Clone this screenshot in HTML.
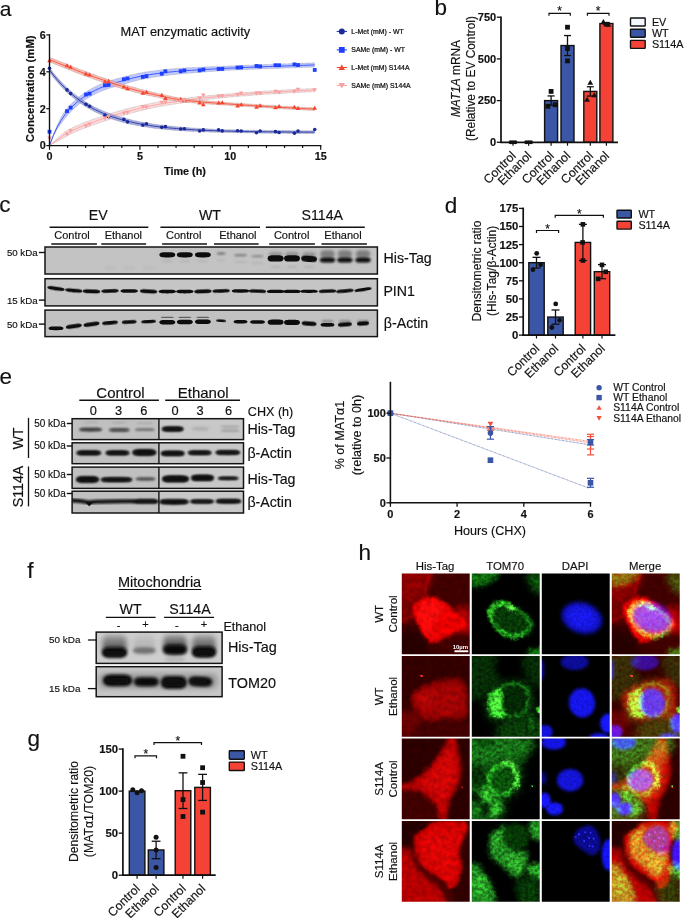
<!DOCTYPE html>
<html lang="en"><head><meta charset="utf-8"><title>Figure</title>
<style>
html,body{margin:0;padding:0;background:#fff;}
body{width:685px;height:918px;overflow:hidden;font-family:"Liberation Sans", sans-serif;}
svg{display:block;font-family:"Liberation Sans", sans-serif;}
svg text{fill:#111;stroke:#111;stroke-width:.16px;}
</style></head><body>
<svg width="685" height="918" viewBox="0 0 685 918">
<rect width="685" height="918" fill="#fff"/>
<g id="panel-a">
<text x="-0.30" y="15.70" font-size="21">a</text>
<path d="M49.50,145.60 L53.34,134.39 L57.19,125.16 L61.03,117.56 L64.88,111.12 L68.72,106.52 L72.56,102.57 L76.41,99.04 L80.25,95.90 L84.10,93.13 L87.94,90.67 L91.78,88.44 L95.63,86.43 L99.47,84.63 L103.32,83.03 L107.16,81.64 L111.00,80.40 L114.85,79.27 L118.69,78.20 L122.54,77.15 L126.38,76.13 L130.22,75.14 L134.07,74.21 L137.91,73.37 L141.76,72.65 L145.60,72.00 L149.44,71.41 L153.29,70.88 L157.13,70.39 L160.97,69.94 L164.82,69.52 L168.66,69.14 L172.51,68.80 L176.35,68.49 L180.19,68.23 L184.04,68.01 L187.88,67.80 L191.73,67.60 L195.57,67.41 L199.41,67.23 L203.26,67.05 L207.10,66.87 L210.95,66.71 L214.79,66.55 L218.63,66.39 L222.48,66.24 L226.32,66.11 L230.17,65.97 L234.01,65.80 L237.85,65.63 L241.70,65.46 L245.54,65.30 L249.39,65.15 L253.23,65.00 L257.07,64.85 L260.92,64.70 L264.76,64.56 L268.61,64.41 L272.45,64.27 L276.29,64.13 L280.14,63.99 L283.98,63.86 L287.83,63.72 L291.67,63.59 L295.51,63.46 L299.36,63.33 L303.20,63.20 L307.05,63.07 L310.89,62.95 L314.73,62.83 L314.73,67.11 L310.89,67.23 L307.05,67.35 L303.20,67.48 L299.36,67.61 L295.51,67.74 L291.67,67.87 L287.83,68.00 L283.98,68.14 L280.14,68.27 L276.29,68.41 L272.45,68.55 L268.61,68.69 L264.76,68.84 L260.92,68.98 L257.07,69.13 L253.23,69.28 L249.39,69.43 L245.54,69.58 L241.70,69.74 L237.85,69.91 L234.01,70.08 L230.17,70.26 L226.32,70.50 L222.48,70.75 L218.63,71.00 L214.79,71.27 L210.95,71.54 L207.10,71.82 L203.26,72.10 L199.41,72.39 L195.57,72.69 L191.73,72.98 L187.88,73.29 L184.04,73.61 L180.19,73.95 L176.35,74.32 L172.51,74.73 L168.66,75.18 L164.82,75.67 L160.97,76.20 L157.13,76.76 L153.29,77.36 L149.44,78.00 L145.60,78.70 L141.76,79.46 L137.91,80.29 L134.07,81.24 L130.22,82.28 L126.38,83.38 L122.54,84.51 L118.69,85.58 L114.85,86.65 L111.00,87.78 L107.16,89.02 L103.32,90.41 L99.47,92.01 L95.63,93.81 L91.78,95.82 L87.94,98.05 L84.10,100.51 L80.25,103.28 L76.41,106.42 L72.56,109.95 L68.72,113.90 L64.88,118.50 L61.03,123.45 L57.19,129.08 L53.34,136.35 L49.50,145.60Z" fill="#a8b6ff" fill-opacity="0.75" stroke="none"/>
<path d="M49.50,145.60 L53.34,134.39 L57.19,125.16 L61.03,117.56 L64.88,111.12 L68.72,106.52 L72.56,102.57 L76.41,99.04 L80.25,95.90 L84.10,93.13 L87.94,90.67 L91.78,88.44 L95.63,86.43 L99.47,84.63 L103.32,83.03 L107.16,81.64 L111.00,80.40 L114.85,79.27 L118.69,78.20 L122.54,77.15 L126.38,76.13 L130.22,75.14 L134.07,74.21 L137.91,73.37 L141.76,72.65 L145.60,72.00 L149.44,71.41 L153.29,70.88 L157.13,70.39 L160.97,69.94 L164.82,69.52 L168.66,69.14 L172.51,68.80 L176.35,68.49 L180.19,68.23 L184.04,68.01 L187.88,67.80 L191.73,67.60 L195.57,67.41 L199.41,67.23 L203.26,67.05 L207.10,66.87 L210.95,66.71 L214.79,66.55 L218.63,66.39 L222.48,66.24 L226.32,66.11 L230.17,65.97 L234.01,65.80 L237.85,65.63 L241.70,65.46 L245.54,65.30 L249.39,65.15 L253.23,65.00 L257.07,64.85 L260.92,64.70 L264.76,64.56 L268.61,64.41 L272.45,64.27 L276.29,64.13 L280.14,63.99 L283.98,63.86 L287.83,63.72 L291.67,63.59 L295.51,63.46 L299.36,63.33 L303.20,63.20 L307.05,63.07 L310.89,62.95 L314.73,62.83" fill="none" stroke="#555" stroke-width="0.35" stroke-dasharray="0.6 0.6"/>
<path d="M49.50,145.60 L53.34,136.35 L57.19,129.08 L61.03,123.45 L64.88,118.50 L68.72,113.90 L72.56,109.95 L76.41,106.42 L80.25,103.28 L84.10,100.51 L87.94,98.05 L91.78,95.82 L95.63,93.81 L99.47,92.01 L103.32,90.41 L107.16,89.02 L111.00,87.78 L114.85,86.65 L118.69,85.58 L122.54,84.51 L126.38,83.38 L130.22,82.28 L134.07,81.24 L137.91,80.29 L141.76,79.46 L145.60,78.70 L149.44,78.00 L153.29,77.36 L157.13,76.76 L160.97,76.20 L164.82,75.67 L168.66,75.18 L172.51,74.73 L176.35,74.32 L180.19,73.95 L184.04,73.61 L187.88,73.29 L191.73,72.98 L195.57,72.69 L199.41,72.39 L203.26,72.10 L207.10,71.82 L210.95,71.54 L214.79,71.27 L218.63,71.00 L222.48,70.75 L226.32,70.50 L230.17,70.26 L234.01,70.08 L237.85,69.91 L241.70,69.74 L245.54,69.58 L249.39,69.43 L253.23,69.28 L257.07,69.13 L260.92,68.98 L264.76,68.84 L268.61,68.69 L272.45,68.55 L276.29,68.41 L280.14,68.27 L283.98,68.14 L287.83,68.00 L291.67,67.87 L295.51,67.74 L299.36,67.61 L303.20,67.48 L307.05,67.35 L310.89,67.23 L314.73,67.11" fill="none" stroke="#555" stroke-width="0.35" stroke-dasharray="0.6 0.6"/>
<path d="M49.50,145.60 L53.34,135.37 L57.19,127.12 L61.03,120.51 L64.88,114.81 L68.72,110.21 L72.56,106.26 L76.41,102.73 L80.25,99.59 L84.10,96.82 L87.94,94.36 L91.78,92.13 L95.63,90.12 L99.47,88.32 L103.32,86.72 L107.16,85.33 L111.00,84.09 L114.85,82.96 L118.69,81.89 L122.54,80.83 L126.38,79.75 L130.22,78.71 L134.07,77.72 L137.91,76.83 L141.76,76.05 L145.60,75.35 L149.44,74.71 L153.29,74.12 L157.13,73.57 L160.97,73.07 L164.82,72.60 L168.66,72.16 L172.51,71.76 L176.35,71.41 L180.19,71.09 L184.04,70.81 L187.88,70.54 L191.73,70.29 L195.57,70.05 L199.41,69.81 L203.26,69.57 L207.10,69.35 L210.95,69.12 L214.79,68.91 L218.63,68.70 L222.48,68.50 L226.32,68.30 L230.17,68.12 L234.01,67.94 L237.85,67.77 L241.70,67.60 L245.54,67.44 L249.39,67.29 L253.23,67.14 L257.07,66.99 L260.92,66.84 L264.76,66.70 L268.61,66.55 L272.45,66.41 L276.29,66.27 L280.14,66.13 L283.98,66.00 L287.83,65.86 L291.67,65.73 L295.51,65.60 L299.36,65.47 L303.20,65.34 L307.05,65.21 L310.89,65.09 L314.73,64.97" fill="none" stroke="#1f3fff" stroke-width="0.8"/>
<path d="M49.50,145.60 L53.34,141.97 L57.19,138.44 L61.03,134.97 L64.88,131.73 L68.72,129.49 L72.56,127.59 L76.41,125.89 L80.25,124.30 L84.10,122.78 L87.94,121.28 L91.78,119.85 L95.63,118.47 L99.47,117.14 L103.32,115.85 L107.16,114.60 L111.00,113.38 L114.85,112.20 L118.69,111.06 L122.54,109.99 L126.38,108.98 L130.22,108.02 L134.07,107.09 L137.91,106.20 L141.76,105.35 L145.60,104.50 L149.44,103.69 L153.29,102.93 L157.13,102.22 L160.97,101.59 L164.82,101.01 L168.66,100.46 L172.51,99.94 L176.35,99.43 L180.19,98.92 L184.04,98.39 L187.88,97.88 L191.73,97.39 L195.57,96.96 L199.41,96.55 L203.26,96.16 L207.10,95.79 L210.95,95.43 L214.79,95.08 L218.63,94.75 L222.48,94.43 L226.32,94.12 L230.17,93.82 L234.01,93.49 L237.85,93.16 L241.70,92.84 L245.54,92.53 L249.39,92.23 L253.23,91.95 L257.07,91.67 L260.92,91.40 L264.76,91.15 L268.61,90.91 L272.45,90.68 L276.29,90.45 L280.14,90.22 L283.98,90.00 L287.83,89.79 L291.67,89.58 L295.51,89.38 L299.36,89.19 L303.20,89.00 L307.05,88.83 L310.89,88.66 L314.73,88.50 L314.73,91.71 L310.89,91.87 L307.05,92.04 L303.20,92.21 L299.36,92.40 L295.51,92.59 L291.67,92.79 L287.83,93.00 L283.98,93.21 L280.14,93.43 L276.29,93.66 L272.45,93.89 L268.61,94.12 L264.76,94.36 L260.92,94.61 L257.07,94.88 L253.23,95.16 L249.39,95.44 L245.54,95.75 L241.70,96.05 L237.85,96.37 L234.01,96.70 L230.17,97.03 L226.32,97.42 L222.48,97.81 L218.63,98.21 L214.79,98.62 L210.95,99.05 L207.10,99.49 L203.26,99.95 L199.41,100.42 L195.57,100.91 L191.73,101.43 L187.88,102.00 L184.04,102.59 L180.19,103.20 L176.35,103.80 L172.51,104.39 L168.66,105.00 L164.82,105.62 L160.97,106.28 L157.13,107.00 L153.29,107.79 L149.44,108.64 L145.60,109.53 L141.76,110.45 L137.91,111.39 L134.07,112.37 L130.22,113.37 L126.38,114.42 L122.54,115.50 L118.69,116.60 L114.85,117.73 L111.00,118.91 L107.16,120.13 L103.32,121.39 L99.47,122.67 L95.63,124.00 L91.78,125.38 L87.94,126.82 L84.10,128.32 L80.25,129.84 L76.41,131.42 L72.56,133.13 L68.72,135.03 L64.88,137.27 L61.03,139.38 L57.19,141.39 L53.34,143.44 L49.50,145.60Z" fill="#fbd0d0" fill-opacity="0.75" stroke="none"/>
<path d="M49.50,145.60 L53.34,141.97 L57.19,138.44 L61.03,134.97 L64.88,131.73 L68.72,129.49 L72.56,127.59 L76.41,125.89 L80.25,124.30 L84.10,122.78 L87.94,121.28 L91.78,119.85 L95.63,118.47 L99.47,117.14 L103.32,115.85 L107.16,114.60 L111.00,113.38 L114.85,112.20 L118.69,111.06 L122.54,109.99 L126.38,108.98 L130.22,108.02 L134.07,107.09 L137.91,106.20 L141.76,105.35 L145.60,104.50 L149.44,103.69 L153.29,102.93 L157.13,102.22 L160.97,101.59 L164.82,101.01 L168.66,100.46 L172.51,99.94 L176.35,99.43 L180.19,98.92 L184.04,98.39 L187.88,97.88 L191.73,97.39 L195.57,96.96 L199.41,96.55 L203.26,96.16 L207.10,95.79 L210.95,95.43 L214.79,95.08 L218.63,94.75 L222.48,94.43 L226.32,94.12 L230.17,93.82 L234.01,93.49 L237.85,93.16 L241.70,92.84 L245.54,92.53 L249.39,92.23 L253.23,91.95 L257.07,91.67 L260.92,91.40 L264.76,91.15 L268.61,90.91 L272.45,90.68 L276.29,90.45 L280.14,90.22 L283.98,90.00 L287.83,89.79 L291.67,89.58 L295.51,89.38 L299.36,89.19 L303.20,89.00 L307.05,88.83 L310.89,88.66 L314.73,88.50" fill="none" stroke="#555" stroke-width="0.35" stroke-dasharray="0.6 0.6"/>
<path d="M49.50,145.60 L53.34,143.44 L57.19,141.39 L61.03,139.38 L64.88,137.27 L68.72,135.03 L72.56,133.13 L76.41,131.42 L80.25,129.84 L84.10,128.32 L87.94,126.82 L91.78,125.38 L95.63,124.00 L99.47,122.67 L103.32,121.39 L107.16,120.13 L111.00,118.91 L114.85,117.73 L118.69,116.60 L122.54,115.50 L126.38,114.42 L130.22,113.37 L134.07,112.37 L137.91,111.39 L141.76,110.45 L145.60,109.53 L149.44,108.64 L153.29,107.79 L157.13,107.00 L160.97,106.28 L164.82,105.62 L168.66,105.00 L172.51,104.39 L176.35,103.80 L180.19,103.20 L184.04,102.59 L187.88,102.00 L191.73,101.43 L195.57,100.91 L199.41,100.42 L203.26,99.95 L207.10,99.49 L210.95,99.05 L214.79,98.62 L218.63,98.21 L222.48,97.81 L226.32,97.42 L230.17,97.03 L234.01,96.70 L237.85,96.37 L241.70,96.05 L245.54,95.75 L249.39,95.44 L253.23,95.16 L257.07,94.88 L260.92,94.61 L264.76,94.36 L268.61,94.12 L272.45,93.89 L276.29,93.66 L280.14,93.43 L283.98,93.21 L287.83,93.00 L291.67,92.79 L295.51,92.59 L299.36,92.40 L303.20,92.21 L307.05,92.04 L310.89,91.87 L314.73,91.71" fill="none" stroke="#555" stroke-width="0.35" stroke-dasharray="0.6 0.6"/>
<path d="M49.50,145.60 L53.34,142.71 L57.19,139.91 L61.03,137.18 L64.88,134.50 L68.72,132.26 L72.56,130.36 L76.41,128.65 L80.25,127.07 L84.10,125.55 L87.94,124.05 L91.78,122.61 L95.63,121.23 L99.47,119.91 L103.32,118.62 L107.16,117.36 L111.00,116.15 L114.85,114.97 L118.69,113.83 L122.54,112.75 L126.38,111.70 L130.22,110.70 L134.07,109.73 L137.91,108.80 L141.76,107.90 L145.60,107.02 L149.44,106.16 L153.29,105.36 L157.13,104.61 L160.97,103.94 L164.82,103.31 L168.66,102.73 L172.51,102.17 L176.35,101.62 L180.19,101.06 L184.04,100.49 L187.88,99.94 L191.73,99.41 L195.57,98.93 L199.41,98.49 L203.26,98.05 L207.10,97.64 L210.95,97.24 L214.79,96.85 L218.63,96.48 L222.48,96.12 L226.32,95.77 L230.17,95.43 L234.01,95.09 L237.85,94.77 L241.70,94.45 L245.54,94.14 L249.39,93.84 L253.23,93.55 L257.07,93.27 L260.92,93.01 L264.76,92.76 L268.61,92.52 L272.45,92.28 L276.29,92.05 L280.14,91.83 L283.98,91.61 L287.83,91.39 L291.67,91.19 L295.51,90.99 L299.36,90.79 L303.20,90.61 L307.05,90.43 L310.89,90.26 L314.73,90.11" fill="none" stroke="#f9a0a0" stroke-width="0.8"/>
<path d="M49.50,57.22 L53.34,58.77 L57.19,60.31 L61.03,61.84 L64.88,63.36 L68.72,64.87 L72.56,66.38 L76.41,67.89 L80.25,69.38 L84.10,70.85 L87.94,72.27 L91.78,73.68 L95.63,75.06 L99.47,76.42 L103.32,77.74 L107.16,79.05 L111.00,80.35 L114.85,81.61 L118.69,82.84 L122.54,84.01 L126.38,85.17 L130.22,86.29 L134.07,87.37 L137.91,88.41 L141.76,89.43 L145.60,90.41 L149.44,91.36 L153.29,92.28 L157.13,93.16 L160.97,94.03 L164.82,94.89 L168.66,95.74 L172.51,96.53 L176.35,97.25 L180.19,97.88 L184.04,98.42 L187.88,98.90 L191.73,99.34 L195.57,99.74 L199.41,100.12 L203.26,100.48 L207.10,100.82 L210.95,101.15 L214.79,101.46 L218.63,101.77 L222.48,102.08 L226.32,102.38 L230.17,102.69 L234.01,102.96 L237.85,103.23 L241.70,103.49 L245.54,103.75 L249.39,104.01 L253.23,104.26 L257.07,104.51 L260.92,104.76 L264.76,105.00 L268.61,105.24 L272.45,105.47 L276.29,105.69 L280.14,105.92 L283.98,106.14 L287.83,106.35 L291.67,106.57 L295.51,106.77 L299.36,106.98 L303.20,107.18 L307.05,107.38 L310.89,107.57 L314.73,107.76 L314.73,110.54 L310.89,110.35 L307.05,110.16 L303.20,109.96 L299.36,109.76 L295.51,109.56 L291.67,109.35 L287.83,109.14 L283.98,108.92 L280.14,108.70 L276.29,108.48 L272.45,108.25 L268.61,108.02 L264.76,107.78 L260.92,107.54 L257.07,107.29 L253.23,107.04 L249.39,106.79 L245.54,106.53 L241.70,106.27 L237.85,106.01 L234.01,105.74 L230.17,105.47 L226.32,105.24 L222.48,105.00 L218.63,104.77 L214.79,104.53 L210.95,104.29 L207.10,104.03 L203.26,103.76 L199.41,103.47 L195.57,103.17 L191.73,102.84 L187.88,102.47 L184.04,102.06 L180.19,101.59 L176.35,101.04 L172.51,100.39 L168.66,99.66 L164.82,98.89 L160.97,98.10 L157.13,97.30 L153.29,96.49 L149.44,95.64 L145.60,94.76 L141.76,93.85 L137.91,92.91 L134.07,91.94 L130.22,90.93 L126.38,89.88 L122.54,88.80 L118.69,87.63 L114.85,86.41 L111.00,85.14 L107.16,83.85 L103.32,82.54 L99.47,81.21 L95.63,79.86 L91.78,78.48 L87.94,77.07 L84.10,75.64 L80.25,74.18 L76.41,72.69 L72.56,71.18 L68.72,69.67 L64.88,68.15 L61.03,66.63 L57.19,65.10 L53.34,63.57 L49.50,62.02Z" fill="#f9a79c" fill-opacity="0.75" stroke="none"/>
<path d="M49.50,57.22 L53.34,58.77 L57.19,60.31 L61.03,61.84 L64.88,63.36 L68.72,64.87 L72.56,66.38 L76.41,67.89 L80.25,69.38 L84.10,70.85 L87.94,72.27 L91.78,73.68 L95.63,75.06 L99.47,76.42 L103.32,77.74 L107.16,79.05 L111.00,80.35 L114.85,81.61 L118.69,82.84 L122.54,84.01 L126.38,85.17 L130.22,86.29 L134.07,87.37 L137.91,88.41 L141.76,89.43 L145.60,90.41 L149.44,91.36 L153.29,92.28 L157.13,93.16 L160.97,94.03 L164.82,94.89 L168.66,95.74 L172.51,96.53 L176.35,97.25 L180.19,97.88 L184.04,98.42 L187.88,98.90 L191.73,99.34 L195.57,99.74 L199.41,100.12 L203.26,100.48 L207.10,100.82 L210.95,101.15 L214.79,101.46 L218.63,101.77 L222.48,102.08 L226.32,102.38 L230.17,102.69 L234.01,102.96 L237.85,103.23 L241.70,103.49 L245.54,103.75 L249.39,104.01 L253.23,104.26 L257.07,104.51 L260.92,104.76 L264.76,105.00 L268.61,105.24 L272.45,105.47 L276.29,105.69 L280.14,105.92 L283.98,106.14 L287.83,106.35 L291.67,106.57 L295.51,106.77 L299.36,106.98 L303.20,107.18 L307.05,107.38 L310.89,107.57 L314.73,107.76" fill="none" stroke="#555" stroke-width="0.35" stroke-dasharray="0.6 0.6"/>
<path d="M49.50,62.02 L53.34,63.57 L57.19,65.10 L61.03,66.63 L64.88,68.15 L68.72,69.67 L72.56,71.18 L76.41,72.69 L80.25,74.18 L84.10,75.64 L87.94,77.07 L91.78,78.48 L95.63,79.86 L99.47,81.21 L103.32,82.54 L107.16,83.85 L111.00,85.14 L114.85,86.41 L118.69,87.63 L122.54,88.80 L126.38,89.88 L130.22,90.93 L134.07,91.94 L137.91,92.91 L141.76,93.85 L145.60,94.76 L149.44,95.64 L153.29,96.49 L157.13,97.30 L160.97,98.10 L164.82,98.89 L168.66,99.66 L172.51,100.39 L176.35,101.04 L180.19,101.59 L184.04,102.06 L187.88,102.47 L191.73,102.84 L195.57,103.17 L199.41,103.47 L203.26,103.76 L207.10,104.03 L210.95,104.29 L214.79,104.53 L218.63,104.77 L222.48,105.00 L226.32,105.24 L230.17,105.47 L234.01,105.74 L237.85,106.01 L241.70,106.27 L245.54,106.53 L249.39,106.79 L253.23,107.04 L257.07,107.29 L260.92,107.54 L264.76,107.78 L268.61,108.02 L272.45,108.25 L276.29,108.48 L280.14,108.70 L283.98,108.92 L287.83,109.14 L291.67,109.35 L295.51,109.56 L299.36,109.76 L303.20,109.96 L307.05,110.16 L310.89,110.35 L314.73,110.54" fill="none" stroke="#555" stroke-width="0.35" stroke-dasharray="0.6 0.6"/>
<path d="M49.50,59.62 L53.34,61.17 L57.19,62.71 L61.03,64.23 L64.88,65.75 L68.72,67.27 L72.56,68.78 L76.41,70.29 L80.25,71.78 L84.10,73.24 L87.94,74.67 L91.78,76.08 L95.63,77.46 L99.47,78.81 L103.32,80.14 L107.16,81.45 L111.00,82.75 L114.85,84.01 L118.69,85.24 L122.54,86.40 L126.38,87.53 L130.22,88.61 L134.07,89.65 L137.91,90.66 L141.76,91.64 L145.60,92.59 L149.44,93.50 L153.29,94.38 L157.13,95.23 L160.97,96.06 L164.82,96.89 L168.66,97.70 L172.51,98.46 L176.35,99.14 L180.19,99.73 L184.04,100.24 L187.88,100.68 L191.73,101.09 L195.57,101.45 L199.41,101.80 L203.26,102.12 L207.10,102.43 L210.95,102.72 L214.79,103.00 L218.63,103.27 L222.48,103.54 L226.32,103.81 L230.17,104.08 L234.01,104.35 L237.85,104.62 L241.70,104.88 L245.54,105.14 L249.39,105.40 L253.23,105.65 L257.07,105.90 L260.92,106.15 L264.76,106.39 L268.61,106.63 L272.45,106.86 L276.29,107.09 L280.14,107.31 L283.98,107.53 L287.83,107.74 L291.67,107.96 L295.51,108.17 L299.36,108.37 L303.20,108.57 L307.05,108.77 L310.89,108.96 L314.73,109.15" fill="none" stroke="#f4452f" stroke-width="0.8"/>
<path d="M49.50,67.56 L53.34,72.64 L57.19,77.31 L61.03,81.60 L64.88,85.54 L68.72,89.16 L72.56,92.48 L76.41,95.53 L80.25,98.34 L84.10,100.91 L87.94,103.28 L91.78,105.45 L95.63,107.44 L99.47,109.27 L103.32,110.96 L107.16,112.50 L111.00,113.92 L114.85,115.23 L118.69,116.42 L122.54,117.53 L126.38,118.58 L130.22,119.54 L134.07,120.43 L137.91,121.25 L141.76,122.00 L145.60,122.70 L149.44,123.34 L153.29,123.93 L157.13,124.48 L160.97,124.99 L164.82,125.45 L168.66,125.89 L172.51,126.29 L176.35,126.66 L180.19,127.00 L184.04,127.32 L187.88,127.61 L191.73,127.89 L195.57,128.14 L199.41,128.38 L203.26,128.60 L207.10,128.80 L210.95,128.99 L214.79,129.17 L218.63,129.34 L222.48,129.49 L226.32,129.64 L230.17,129.78 L234.01,129.87 L237.85,129.96 L241.70,130.04 L245.54,130.11 L249.39,130.18 L253.23,130.24 L257.07,130.29 L260.92,130.34 L264.76,130.39 L268.61,130.44 L272.45,130.48 L276.29,130.51 L280.14,130.55 L283.98,130.58 L287.83,130.60 L291.67,130.63 L295.51,130.66 L299.36,130.68 L303.20,130.70 L307.05,130.72 L310.89,130.73 L314.73,130.75 L314.73,133.53 L310.89,133.52 L307.05,133.50 L303.20,133.48 L299.36,133.46 L295.51,133.44 L291.67,133.41 L287.83,133.39 L283.98,133.36 L280.14,133.33 L276.29,133.29 L272.45,133.26 L268.61,133.22 L264.76,133.17 L260.92,133.13 L257.07,133.08 L253.23,133.02 L249.39,132.96 L245.54,132.89 L241.70,132.82 L237.85,132.74 L234.01,132.65 L230.17,132.56 L226.32,132.50 L222.48,132.42 L218.63,132.34 L214.79,132.24 L210.95,132.13 L207.10,132.01 L203.26,131.88 L199.41,131.73 L195.57,131.57 L191.73,131.38 L187.88,131.18 L184.04,130.96 L180.19,130.71 L176.35,130.44 L172.51,130.14 L168.66,129.81 L164.82,129.45 L160.97,129.06 L157.13,128.62 L153.29,128.15 L149.44,127.62 L145.60,127.05 L141.76,126.43 L137.91,125.75 L134.07,125.00 L130.22,124.18 L126.38,123.29 L122.54,122.32 L118.69,121.22 L114.85,120.02 L111.00,118.72 L107.16,117.30 L103.32,115.75 L99.47,114.07 L95.63,112.24 L91.78,110.24 L87.94,108.07 L84.10,105.71 L80.25,103.13 L76.41,100.33 L72.56,97.28 L68.72,93.95 L64.88,90.34 L61.03,86.40 L57.19,82.11 L53.34,77.44 L49.50,72.35Z" fill="#8a93d8" fill-opacity="0.75" stroke="none"/>
<path d="M49.50,67.56 L53.34,72.64 L57.19,77.31 L61.03,81.60 L64.88,85.54 L68.72,89.16 L72.56,92.48 L76.41,95.53 L80.25,98.34 L84.10,100.91 L87.94,103.28 L91.78,105.45 L95.63,107.44 L99.47,109.27 L103.32,110.96 L107.16,112.50 L111.00,113.92 L114.85,115.23 L118.69,116.42 L122.54,117.53 L126.38,118.58 L130.22,119.54 L134.07,120.43 L137.91,121.25 L141.76,122.00 L145.60,122.70 L149.44,123.34 L153.29,123.93 L157.13,124.48 L160.97,124.99 L164.82,125.45 L168.66,125.89 L172.51,126.29 L176.35,126.66 L180.19,127.00 L184.04,127.32 L187.88,127.61 L191.73,127.89 L195.57,128.14 L199.41,128.38 L203.26,128.60 L207.10,128.80 L210.95,128.99 L214.79,129.17 L218.63,129.34 L222.48,129.49 L226.32,129.64 L230.17,129.78 L234.01,129.87 L237.85,129.96 L241.70,130.04 L245.54,130.11 L249.39,130.18 L253.23,130.24 L257.07,130.29 L260.92,130.34 L264.76,130.39 L268.61,130.44 L272.45,130.48 L276.29,130.51 L280.14,130.55 L283.98,130.58 L287.83,130.60 L291.67,130.63 L295.51,130.66 L299.36,130.68 L303.20,130.70 L307.05,130.72 L310.89,130.73 L314.73,130.75" fill="none" stroke="#555" stroke-width="0.35" stroke-dasharray="0.6 0.6"/>
<path d="M49.50,72.35 L53.34,77.44 L57.19,82.11 L61.03,86.40 L64.88,90.34 L68.72,93.95 L72.56,97.28 L76.41,100.33 L80.25,103.13 L84.10,105.71 L87.94,108.07 L91.78,110.24 L95.63,112.24 L99.47,114.07 L103.32,115.75 L107.16,117.30 L111.00,118.72 L114.85,120.02 L118.69,121.22 L122.54,122.32 L126.38,123.29 L130.22,124.18 L134.07,125.00 L137.91,125.75 L141.76,126.43 L145.60,127.05 L149.44,127.62 L153.29,128.15 L157.13,128.62 L160.97,129.06 L164.82,129.45 L168.66,129.81 L172.51,130.14 L176.35,130.44 L180.19,130.71 L184.04,130.96 L187.88,131.18 L191.73,131.38 L195.57,131.57 L199.41,131.73 L203.26,131.88 L207.10,132.01 L210.95,132.13 L214.79,132.24 L218.63,132.34 L222.48,132.42 L226.32,132.50 L230.17,132.56 L234.01,132.65 L237.85,132.74 L241.70,132.82 L245.54,132.89 L249.39,132.96 L253.23,133.02 L257.07,133.08 L260.92,133.13 L264.76,133.17 L268.61,133.22 L272.45,133.26 L276.29,133.29 L280.14,133.33 L283.98,133.36 L287.83,133.39 L291.67,133.41 L295.51,133.44 L299.36,133.46 L303.20,133.48 L307.05,133.50 L310.89,133.52 L314.73,133.53" fill="none" stroke="#555" stroke-width="0.35" stroke-dasharray="0.6 0.6"/>
<path d="M49.50,69.95 L53.34,75.04 L57.19,79.71 L61.03,84.00 L64.88,87.94 L68.72,91.56 L72.56,94.88 L76.41,97.93 L80.25,100.73 L84.10,103.31 L87.94,105.67 L91.78,107.85 L95.63,109.84 L99.47,111.67 L103.32,113.36 L107.16,114.90 L111.00,116.32 L114.85,117.63 L118.69,118.82 L122.54,119.92 L126.38,120.93 L130.22,121.86 L134.07,122.71 L137.91,123.50 L141.76,124.22 L145.60,124.88 L149.44,125.48 L153.29,126.04 L157.13,126.55 L160.97,127.02 L164.82,127.45 L168.66,127.85 L172.51,128.21 L176.35,128.55 L180.19,128.86 L184.04,129.14 L187.88,129.40 L191.73,129.63 L195.57,129.85 L199.41,130.05 L203.26,130.24 L207.10,130.41 L210.95,130.56 L214.79,130.71 L218.63,130.84 L222.48,130.96 L226.32,131.07 L230.17,131.17 L234.01,131.26 L237.85,131.35 L241.70,131.43 L245.54,131.50 L249.39,131.57 L253.23,131.63 L257.07,131.68 L260.92,131.74 L264.76,131.78 L268.61,131.83 L272.45,131.87 L276.29,131.90 L280.14,131.94 L283.98,131.97 L287.83,132.00 L291.67,132.02 L295.51,132.05 L299.36,132.07 L303.20,132.09 L307.05,132.11 L310.89,132.12 L314.73,132.14" fill="none" stroke="#1a2a9a" stroke-width="0.8"/>
<circle cx="49.50" cy="68.29" r="1.80" fill="#1a2a9a"/>
<circle cx="67.04" cy="89.90" r="1.80" fill="#1a2a9a"/>
<circle cx="70.65" cy="93.60" r="1.80" fill="#1a2a9a"/>
<circle cx="85.99" cy="104.23" r="1.80" fill="#1a2a9a"/>
<circle cx="89.60" cy="106.31" r="1.80" fill="#1a2a9a"/>
<circle cx="104.93" cy="115.14" r="1.80" fill="#1a2a9a"/>
<circle cx="108.55" cy="116.69" r="1.80" fill="#1a2a9a"/>
<circle cx="123.88" cy="119.42" r="1.80" fill="#1a2a9a"/>
<circle cx="127.50" cy="121.83" r="1.80" fill="#1a2a9a"/>
<circle cx="142.83" cy="125.09" r="1.80" fill="#1a2a9a"/>
<circle cx="146.44" cy="123.73" r="1.80" fill="#1a2a9a"/>
<circle cx="161.78" cy="127.19" r="1.80" fill="#1a2a9a"/>
<circle cx="165.39" cy="126.65" r="1.80" fill="#1a2a9a"/>
<circle cx="180.72" cy="128.96" r="1.80" fill="#1a2a9a"/>
<circle cx="184.34" cy="128.80" r="1.80" fill="#1a2a9a"/>
<circle cx="199.67" cy="130.97" r="1.80" fill="#1a2a9a"/>
<circle cx="203.29" cy="129.89" r="1.80" fill="#1a2a9a"/>
<circle cx="218.62" cy="129.89" r="1.80" fill="#1a2a9a"/>
<circle cx="222.24" cy="130.89" r="1.80" fill="#1a2a9a"/>
<circle cx="237.57" cy="130.72" r="1.80" fill="#1a2a9a"/>
<circle cx="241.18" cy="130.98" r="1.80" fill="#1a2a9a"/>
<circle cx="256.52" cy="132.80" r="1.80" fill="#1a2a9a"/>
<circle cx="260.13" cy="131.06" r="1.80" fill="#1a2a9a"/>
<circle cx="275.46" cy="131.66" r="1.80" fill="#1a2a9a"/>
<circle cx="279.08" cy="132.44" r="1.80" fill="#1a2a9a"/>
<circle cx="294.41" cy="133.25" r="1.80" fill="#1a2a9a"/>
<circle cx="298.03" cy="131.12" r="1.80" fill="#1a2a9a"/>
<circle cx="314.73" cy="129.55" r="1.80" fill="#1a2a9a"/>
<rect x="47.60" y="129.86" width="3.80" height="3.80" fill="#1f3fff"/>
<rect x="65.14" y="109.21" width="3.80" height="3.80" fill="#1f3fff"/>
<rect x="68.75" y="105.72" width="3.80" height="3.80" fill="#1f3fff"/>
<rect x="84.09" y="92.59" width="3.80" height="3.80" fill="#1f3fff"/>
<rect x="87.70" y="91.74" width="3.80" height="3.80" fill="#1f3fff"/>
<rect x="103.03" y="83.44" width="3.80" height="3.80" fill="#1f3fff"/>
<rect x="106.65" y="83.11" width="3.80" height="3.80" fill="#1f3fff"/>
<rect x="121.98" y="77.42" width="3.80" height="3.80" fill="#1f3fff"/>
<rect x="125.60" y="76.57" width="3.80" height="3.80" fill="#1f3fff"/>
<rect x="140.93" y="74.99" width="3.80" height="3.80" fill="#1f3fff"/>
<rect x="144.54" y="74.24" width="3.80" height="3.80" fill="#1f3fff"/>
<rect x="159.88" y="71.80" width="3.80" height="3.80" fill="#1f3fff"/>
<rect x="163.49" y="69.43" width="3.80" height="3.80" fill="#1f3fff"/>
<rect x="178.82" y="69.32" width="3.80" height="3.80" fill="#1f3fff"/>
<rect x="182.44" y="68.56" width="3.80" height="3.80" fill="#1f3fff"/>
<rect x="197.77" y="68.41" width="3.80" height="3.80" fill="#1f3fff"/>
<rect x="201.39" y="67.65" width="3.80" height="3.80" fill="#1f3fff"/>
<rect x="216.72" y="67.09" width="3.80" height="3.80" fill="#1f3fff"/>
<rect x="220.34" y="66.99" width="3.80" height="3.80" fill="#1f3fff"/>
<rect x="235.67" y="65.66" width="3.80" height="3.80" fill="#1f3fff"/>
<rect x="239.28" y="65.51" width="3.80" height="3.80" fill="#1f3fff"/>
<rect x="254.62" y="64.06" width="3.80" height="3.80" fill="#1f3fff"/>
<rect x="258.23" y="64.50" width="3.80" height="3.80" fill="#1f3fff"/>
<rect x="273.56" y="63.29" width="3.80" height="3.80" fill="#1f3fff"/>
<rect x="277.18" y="63.35" width="3.80" height="3.80" fill="#1f3fff"/>
<rect x="292.51" y="62.46" width="3.80" height="3.80" fill="#1f3fff"/>
<rect x="296.13" y="63.17" width="3.80" height="3.80" fill="#1f3fff"/>
<rect x="312.83" y="68.05" width="3.80" height="3.80" fill="#1f3fff"/>
<path d="M49.50,58.16 L51.80,62.16 L47.20,62.16Z" fill="#f4452f"/>
<path d="M67.04,63.21 L69.34,67.21 L64.74,67.21Z" fill="#f4452f"/>
<path d="M70.65,64.78 L72.95,68.78 L68.35,68.78Z" fill="#f4452f"/>
<path d="M85.99,71.57 L88.29,75.57 L83.69,75.57Z" fill="#f4452f"/>
<path d="M89.60,72.53 L91.90,76.53 L87.30,76.53Z" fill="#f4452f"/>
<path d="M104.93,79.24 L107.23,83.24 L102.63,83.24Z" fill="#f4452f"/>
<path d="M108.55,78.86 L110.85,82.86 L106.25,82.86Z" fill="#f4452f"/>
<path d="M123.88,84.41 L126.18,88.41 L121.58,88.41Z" fill="#f4452f"/>
<path d="M127.50,86.20 L129.80,90.20 L125.20,90.20Z" fill="#f4452f"/>
<path d="M142.83,90.83 L145.13,94.83 L140.53,94.83Z" fill="#f4452f"/>
<path d="M146.44,89.68 L148.74,93.68 L144.14,93.68Z" fill="#f4452f"/>
<path d="M161.78,92.77 L164.08,96.77 L159.48,96.77Z" fill="#f4452f"/>
<path d="M165.39,95.88 L167.69,99.88 L163.09,99.88Z" fill="#f4452f"/>
<path d="M180.72,96.83 L183.02,100.83 L178.42,100.83Z" fill="#f4452f"/>
<path d="M184.34,98.31 L186.64,102.31 L182.04,102.31Z" fill="#f4452f"/>
<path d="M199.67,100.52 L201.97,104.52 L197.37,104.52Z" fill="#f4452f"/>
<path d="M203.29,102.26 L205.59,106.26 L200.99,106.26Z" fill="#f4452f"/>
<path d="M218.62,100.38 L220.92,104.38 L216.32,104.38Z" fill="#f4452f"/>
<path d="M222.24,100.36 L224.54,104.36 L219.94,104.36Z" fill="#f4452f"/>
<path d="M237.57,103.57 L239.87,107.57 L235.27,107.57Z" fill="#f4452f"/>
<path d="M241.18,102.35 L243.48,106.35 L238.88,106.35Z" fill="#f4452f"/>
<path d="M256.52,104.84 L258.82,108.84 L254.22,108.84Z" fill="#f4452f"/>
<path d="M260.13,103.34 L262.43,107.34 L257.83,107.34Z" fill="#f4452f"/>
<path d="M275.46,105.27 L277.76,109.27 L273.16,109.27Z" fill="#f4452f"/>
<path d="M279.08,104.06 L281.38,108.06 L276.78,108.06Z" fill="#f4452f"/>
<path d="M294.41,104.66 L296.71,108.66 L292.11,108.66Z" fill="#f4452f"/>
<path d="M298.03,106.09 L300.33,110.09 L295.73,110.09Z" fill="#f4452f"/>
<path d="M314.73,105.67 L317.03,109.67 L312.43,109.67Z" fill="#f4452f"/>
<path d="M49.50,140.42 L51.80,136.42 L47.20,136.42Z" fill="#f9a0a0"/>
<path d="M67.04,136.46 L69.34,132.46 L64.74,132.46Z" fill="#f9a0a0"/>
<path d="M70.65,133.22 L72.95,129.22 L68.35,129.22Z" fill="#f9a0a0"/>
<path d="M85.99,128.22 L88.29,124.22 L83.69,124.22Z" fill="#f9a0a0"/>
<path d="M89.60,126.40 L91.90,122.40 L87.30,122.40Z" fill="#f9a0a0"/>
<path d="M104.93,120.52 L107.23,116.52 L102.63,116.52Z" fill="#f9a0a0"/>
<path d="M108.55,118.83 L110.85,114.83 L106.25,114.83Z" fill="#f9a0a0"/>
<path d="M123.88,115.46 L126.18,111.46 L121.58,111.46Z" fill="#f9a0a0"/>
<path d="M127.50,114.79 L129.80,110.79 L125.20,110.79Z" fill="#f9a0a0"/>
<path d="M142.83,108.90 L145.13,104.90 L140.53,104.90Z" fill="#f9a0a0"/>
<path d="M146.44,109.51 L148.74,105.51 L144.14,105.51Z" fill="#f9a0a0"/>
<path d="M161.78,104.82 L164.08,100.82 L159.48,100.82Z" fill="#f9a0a0"/>
<path d="M165.39,104.40 L167.69,100.40 L163.09,100.40Z" fill="#f9a0a0"/>
<path d="M180.72,103.50 L183.02,99.50 L178.42,99.50Z" fill="#f9a0a0"/>
<path d="M184.34,102.75 L186.64,98.75 L182.04,98.75Z" fill="#f9a0a0"/>
<path d="M199.67,100.60 L201.97,96.60 L197.37,96.60Z" fill="#f9a0a0"/>
<path d="M203.29,97.43 L205.59,93.43 L200.99,93.43Z" fill="#f9a0a0"/>
<path d="M218.62,98.43 L220.92,94.43 L216.32,94.43Z" fill="#f9a0a0"/>
<path d="M222.24,98.19 L224.54,94.19 L219.94,94.19Z" fill="#f9a0a0"/>
<path d="M237.57,96.68 L239.87,92.68 L235.27,92.68Z" fill="#f9a0a0"/>
<path d="M241.18,95.55 L243.48,91.55 L238.88,91.55Z" fill="#f9a0a0"/>
<path d="M256.52,95.49 L258.82,91.49 L254.22,91.49Z" fill="#f9a0a0"/>
<path d="M260.13,95.44 L262.43,91.44 L257.83,91.44Z" fill="#f9a0a0"/>
<path d="M275.46,93.73 L277.76,89.73 L273.16,89.73Z" fill="#f9a0a0"/>
<path d="M279.08,94.77 L281.38,90.77 L276.78,90.77Z" fill="#f9a0a0"/>
<path d="M294.41,93.76 L296.71,89.76 L292.11,89.76Z" fill="#f9a0a0"/>
<path d="M298.03,91.83 L300.33,87.83 L295.73,87.83Z" fill="#f9a0a0"/>
<path d="M314.73,92.25 L317.03,88.25 L312.43,88.25Z" fill="#f9a0a0"/>
<line x1="49.50" y1="34.20" x2="49.50" y2="146.30" stroke="#111" stroke-width="1.4"/>
<line x1="48.80" y1="145.60" x2="321.40" y2="145.60" stroke="#111" stroke-width="1.4"/>
<line x1="46.30" y1="145.60" x2="49.50" y2="145.60" stroke="#111" stroke-width="1.2"/>
<text x="45.70" y="149.40" font-size="10.8" font-weight="bold" text-anchor="end">0</text>
<line x1="46.30" y1="108.70" x2="49.50" y2="108.70" stroke="#111" stroke-width="1.2"/>
<text x="45.70" y="112.50" font-size="10.8" font-weight="bold" text-anchor="end">2</text>
<line x1="46.30" y1="71.80" x2="49.50" y2="71.80" stroke="#111" stroke-width="1.2"/>
<text x="45.70" y="75.60" font-size="10.8" font-weight="bold" text-anchor="end">4</text>
<line x1="46.30" y1="34.90" x2="49.50" y2="34.90" stroke="#111" stroke-width="1.2"/>
<text x="45.70" y="38.70" font-size="10.8" font-weight="bold" text-anchor="end">6</text>
<line x1="49.50" y1="145.60" x2="49.50" y2="149.80" stroke="#111" stroke-width="1.2"/>
<line x1="67.58" y1="145.60" x2="67.58" y2="148.00" stroke="#111" stroke-width="1.2"/>
<line x1="85.66" y1="145.60" x2="85.66" y2="148.00" stroke="#111" stroke-width="1.2"/>
<line x1="103.74" y1="145.60" x2="103.74" y2="148.00" stroke="#111" stroke-width="1.2"/>
<line x1="121.82" y1="145.60" x2="121.82" y2="148.00" stroke="#111" stroke-width="1.2"/>
<line x1="139.90" y1="145.60" x2="139.90" y2="149.80" stroke="#111" stroke-width="1.2"/>
<line x1="157.98" y1="145.60" x2="157.98" y2="148.00" stroke="#111" stroke-width="1.2"/>
<line x1="176.06" y1="145.60" x2="176.06" y2="148.00" stroke="#111" stroke-width="1.2"/>
<line x1="194.14" y1="145.60" x2="194.14" y2="148.00" stroke="#111" stroke-width="1.2"/>
<line x1="212.22" y1="145.60" x2="212.22" y2="148.00" stroke="#111" stroke-width="1.2"/>
<line x1="230.30" y1="145.60" x2="230.30" y2="149.80" stroke="#111" stroke-width="1.2"/>
<line x1="248.38" y1="145.60" x2="248.38" y2="148.00" stroke="#111" stroke-width="1.2"/>
<line x1="266.46" y1="145.60" x2="266.46" y2="148.00" stroke="#111" stroke-width="1.2"/>
<line x1="284.54" y1="145.60" x2="284.54" y2="148.00" stroke="#111" stroke-width="1.2"/>
<line x1="302.62" y1="145.60" x2="302.62" y2="148.00" stroke="#111" stroke-width="1.2"/>
<line x1="320.70" y1="145.60" x2="320.70" y2="149.80" stroke="#111" stroke-width="1.2"/>
<text x="49.50" y="159.60" font-size="10.8" font-weight="bold" text-anchor="middle">0</text>
<text x="139.90" y="159.60" font-size="10.8" font-weight="bold" text-anchor="middle">5</text>
<text x="230.30" y="159.60" font-size="10.8" font-weight="bold" text-anchor="middle">10</text>
<text x="320.70" y="159.60" font-size="10.8" font-weight="bold" text-anchor="middle">15</text>
<text x="34.30" y="88.80" font-size="11.3" font-weight="bold" text-anchor="middle" transform="rotate(-90 34.30 88.80)">Concentration (mM)</text>
<text x="185.00" y="174.70" font-size="10.8" font-weight="bold" text-anchor="middle">Time (h)</text>
<text x="120.50" y="35.80" font-size="12.8">MAT enzymatic activity</text>
<line x1="336.70" y1="31.40" x2="347.00" y2="31.40" stroke="#1a2a9a" stroke-width="1.0"/>
<circle cx="341.80" cy="31.40" r="3.00" fill="#1a2a9a"/>
<text x="351.30" y="33.70" font-size="6.9" style="stroke-width:.24px">L-Met (mM) - WT</text>
<line x1="336.70" y1="49.90" x2="347.00" y2="49.90" stroke="#1f3fff" stroke-width="1.0"/>
<rect x="338.90" y="47.00" width="5.80" height="5.80" fill="#1f3fff"/>
<text x="351.30" y="52.20" font-size="6.9" style="stroke-width:.24px">SAMe (mM) - WT</text>
<line x1="336.70" y1="67.50" x2="347.00" y2="67.50" stroke="#f4452f" stroke-width="1.0"/>
<path d="M341.80,64.42 L345.02,70.02 L338.58,70.02Z" fill="#f4452f"/>
<text x="351.30" y="69.80" font-size="6.9" style="stroke-width:.24px">L-Met (mM) S144A</text>
<line x1="336.70" y1="85.40" x2="347.00" y2="85.40" stroke="#f9a0a0" stroke-width="1.0"/>
<path d="M341.80,88.48 L345.02,82.88 L338.58,82.88Z" fill="#f9a0a0"/>
<text x="351.30" y="87.70" font-size="6.9" style="stroke-width:.24px">SAMe (mM) S144A</text>
</g>
<g id="panel-b">
<text x="434.40" y="15.40" font-size="22.5">b</text>
<circle cx="510.60" cy="142.30" r="2.00" fill="#111"/>
<circle cx="513.00" cy="142.30" r="2.00" fill="#111"/>
<circle cx="515.40" cy="142.30" r="2.00" fill="#111"/>
<circle cx="526.20" cy="142.30" r="2.00" fill="#111"/>
<circle cx="528.60" cy="142.30" r="2.00" fill="#111"/>
<circle cx="531.00" cy="142.30" r="2.00" fill="#111"/>
<rect x="544.60" y="100.60" width="13.00" height="41.70" fill="#3b56a5" stroke="#111" stroke-width="1.4"/>
<line x1="551.10" y1="95.93" x2="551.10" y2="105.27" stroke="#111" stroke-width="1.3"/>
<line x1="547.60" y1="95.93" x2="554.60" y2="95.93" stroke="#111" stroke-width="1.3"/>
<line x1="547.60" y1="105.27" x2="554.60" y2="105.27" stroke="#111" stroke-width="1.3"/>
<rect x="548.70" y="89.03" width="4.80" height="4.80" fill="#111"/>
<rect x="545.50" y="103.87" width="4.80" height="4.80" fill="#111"/>
<rect x="552.70" y="102.37" width="4.80" height="4.80" fill="#111"/>
<rect x="561.00" y="45.56" width="13.00" height="96.74" fill="#3b56a5" stroke="#111" stroke-width="1.4"/>
<line x1="567.50" y1="35.55" x2="567.50" y2="55.56" stroke="#111" stroke-width="1.3"/>
<line x1="564.00" y1="35.55" x2="571.00" y2="35.55" stroke="#111" stroke-width="1.3"/>
<line x1="564.00" y1="55.56" x2="571.00" y2="55.56" stroke="#111" stroke-width="1.3"/>
<rect x="565.10" y="24.81" width="4.80" height="4.80" fill="#111"/>
<rect x="565.10" y="46.16" width="4.80" height="4.80" fill="#111"/>
<rect x="565.10" y="58.50" width="4.80" height="4.80" fill="#111"/>
<rect x="583.80" y="91.43" width="13.00" height="50.87" fill="#f44336" stroke="#111" stroke-width="1.4"/>
<line x1="590.30" y1="86.76" x2="590.30" y2="96.10" stroke="#111" stroke-width="1.3"/>
<line x1="586.80" y1="86.76" x2="593.80" y2="86.76" stroke="#111" stroke-width="1.3"/>
<line x1="586.80" y1="96.10" x2="593.80" y2="96.10" stroke="#111" stroke-width="1.3"/>
<path d="M590.30,79.84 L593.17,84.84 L587.42,84.84Z" fill="#111"/>
<path d="M587.10,96.68 L589.97,101.68 L584.22,101.68Z" fill="#111"/>
<path d="M594.30,92.18 L597.17,97.18 L591.42,97.18Z" fill="#111"/>
<rect x="599.90" y="23.54" width="13.00" height="118.76" fill="#f44336" stroke="#111" stroke-width="1.4"/>
<line x1="606.40" y1="22.54" x2="606.40" y2="24.54" stroke="#111" stroke-width="1.3"/>
<line x1="602.90" y1="22.54" x2="609.90" y2="22.54" stroke="#111" stroke-width="1.3"/>
<line x1="602.90" y1="24.54" x2="609.90" y2="24.54" stroke="#111" stroke-width="1.3"/>
<path d="M603.40,19.12 L606.27,24.12 L600.52,24.12Z" fill="#111"/>
<path d="M608.40,21.79 L611.27,26.79 L605.52,26.79Z" fill="#111"/>
<path d="M606.40,21.46 L609.27,26.46 L603.52,26.46Z" fill="#111"/>
<line x1="501.00" y1="16.60" x2="501.00" y2="143.10" stroke="#111" stroke-width="1.7"/>
<line x1="500.20" y1="142.30" x2="618.00" y2="142.30" stroke="#111" stroke-width="1.7"/>
<line x1="496.80" y1="142.30" x2="501.00" y2="142.30" stroke="#111" stroke-width="1.3"/>
<text x="496.20" y="146.10" font-size="11" font-weight="bold" text-anchor="end">0</text>
<line x1="496.80" y1="100.60" x2="501.00" y2="100.60" stroke="#111" stroke-width="1.3"/>
<text x="496.20" y="104.40" font-size="11" font-weight="bold" text-anchor="end">250</text>
<line x1="496.80" y1="58.90" x2="501.00" y2="58.90" stroke="#111" stroke-width="1.3"/>
<text x="496.20" y="62.70" font-size="11" font-weight="bold" text-anchor="end">500</text>
<line x1="496.80" y1="17.20" x2="501.00" y2="17.20" stroke="#111" stroke-width="1.3"/>
<text x="496.20" y="21.00" font-size="11" font-weight="bold" text-anchor="end">750</text>
<line x1="513.00" y1="142.30" x2="513.00" y2="145.70" stroke="#111" stroke-width="1.2"/>
<text x="516.60" y="156.50" font-size="12.3" text-anchor="end" transform="rotate(-45 516.60 156.50)">Control</text>
<line x1="528.60" y1="142.30" x2="528.60" y2="145.70" stroke="#111" stroke-width="1.2"/>
<text x="532.20" y="156.50" font-size="12.3" text-anchor="end" transform="rotate(-45 532.20 156.50)">Ethanol</text>
<line x1="551.10" y1="142.30" x2="551.10" y2="145.70" stroke="#111" stroke-width="1.2"/>
<text x="554.70" y="156.50" font-size="12.3" text-anchor="end" transform="rotate(-45 554.70 156.50)">Control</text>
<line x1="567.50" y1="142.30" x2="567.50" y2="145.70" stroke="#111" stroke-width="1.2"/>
<text x="571.10" y="156.50" font-size="12.3" text-anchor="end" transform="rotate(-45 571.10 156.50)">Ethanol</text>
<line x1="590.30" y1="142.30" x2="590.30" y2="145.70" stroke="#111" stroke-width="1.2"/>
<text x="593.90" y="156.50" font-size="12.3" text-anchor="end" transform="rotate(-45 593.90 156.50)">Control</text>
<line x1="606.40" y1="142.30" x2="606.40" y2="145.70" stroke="#111" stroke-width="1.2"/>
<text x="610.00" y="156.50" font-size="12.3" text-anchor="end" transform="rotate(-45 610.00 156.50)">Ethanol</text>
<text x="460.3" y="78.5" font-size="11.9" text-anchor="middle" transform="rotate(-90 460.3 78.5)"><tspan font-style="italic">MAT1A</tspan> mRNA</text>
<text x="474.90" y="78.50" font-size="11.9" text-anchor="middle" transform="rotate(-90 474.90 78.50)">(Relative to EV Control)</text>
<path d="M549,15.8 V13.4 H570.3 V15.8" fill="none" stroke="#111" stroke-width="1.2"/>
<text x="559.65" y="14.60" font-size="12" text-anchor="middle">*</text>
<path d="M587.4,15.8 V13.4 H609 V15.8" fill="none" stroke="#111" stroke-width="1.2"/>
<text x="598.20" y="14.60" font-size="12" text-anchor="middle">*</text>
<rect x="630.50" y="18.00" width="14.70" height="8.00" fill="#f4f8fd" stroke="#111" stroke-width="1.4" rx="0.6"/>
<text x="651.90" y="25.80" font-size="10.8">EV</text>
<rect x="630.50" y="29.20" width="14.70" height="8.00" fill="#3b56a5" stroke="#111" stroke-width="1.4" rx="0.6"/>
<text x="651.90" y="37.00" font-size="10.8">WT</text>
<rect x="630.50" y="40.40" width="14.70" height="8.00" fill="#f44336" stroke="#111" stroke-width="1.4" rx="0.6"/>
<text x="651.90" y="48.20" font-size="10.8">S114A</text>
</g>
<g id="panel-c">
<defs>
<filter id="bl06" x="-20%" y="-100%" width="140%" height="300%"><feGaussianBlur stdDeviation="0.75"/></filter>
<filter id="bl09" x="-20%" y="-100%" width="140%" height="300%"><feGaussianBlur stdDeviation="0.9"/></filter>
<filter id="bl14" x="-30%" y="-150%" width="160%" height="400%"><feGaussianBlur stdDeviation="1.4"/></filter>
<filter id="bl2" x="-30%" y="-150%" width="160%" height="400%"><feGaussianBlur stdDeviation="2"/></filter>
</defs>
<text x="-0.70" y="211.60" font-size="22.5">c</text>
<clipPath id="cc0"><rect x="45.0" y="247.0" width="332.4" height="27.0"/></clipPath>
<rect x="45.00" y="247.00" width="332.40" height="27.00" fill="#c3c3c3" stroke="none" stroke-width="1"/>
<g clip-path="url(#cc0)">
<path d="M159.30,254.80 C159.78,252.18 161.86,252.18 167.30,252.18 S174.82,252.18 175.30,254.80 C174.82,257.43 172.74,257.43 167.30,257.43 S159.78,257.43 159.30,254.80Z" fill="#0a0a0a" fill-opacity="1" filter="url(#bl06)"/>
<path d="M161.80,261.30 C162.13,260.46 163.56,260.46 167.30,260.46 S172.47,260.46 172.80,261.30 C172.47,262.14 171.04,262.14 167.30,262.14 S162.13,262.14 161.80,261.30Z" fill="#0a0a0a" fill-opacity="0.1" filter="url(#bl09)"/>
<path d="M176.80,254.80 C177.28,252.18 179.36,252.18 184.80,252.18 S192.32,252.18 192.80,254.80 C192.32,257.43 190.24,257.43 184.80,257.43 S177.28,257.43 176.80,254.80Z" fill="#0a0a0a" fill-opacity="1" filter="url(#bl06)"/>
<path d="M179.30,261.30 C179.63,260.46 181.06,260.46 184.80,260.46 S189.97,260.46 190.30,261.30 C189.97,262.14 188.54,262.14 184.80,262.14 S179.63,262.14 179.30,261.30Z" fill="#0a0a0a" fill-opacity="0.1" filter="url(#bl09)"/>
<path d="M194.90,254.80 C195.38,252.18 197.46,252.18 202.90,252.18 S210.42,252.18 210.90,254.80 C210.42,257.43 208.34,257.43 202.90,257.43 S195.38,257.43 194.90,254.80Z" fill="#0a0a0a" fill-opacity="1" filter="url(#bl06)"/>
<path d="M197.40,261.30 C197.73,260.46 199.16,260.46 202.90,260.46 S208.07,260.46 208.40,261.30 C208.07,262.14 206.64,262.14 202.90,262.14 S197.73,262.14 197.40,261.30Z" fill="#0a0a0a" fill-opacity="0.1" filter="url(#bl09)"/>
<path d="M216.60,253.60 C216.87,252.55 218.04,252.55 221.10,252.55 S225.33,252.55 225.60,253.60 C225.33,254.65 224.16,254.65 221.10,254.65 S216.87,254.65 216.60,253.60Z" fill="#0a0a0a" fill-opacity="0.45" filter="url(#bl09)"/>
<path d="M216.60,260.60 C216.87,259.76 218.04,259.76 221.10,259.76 S225.33,259.76 225.60,260.60 C225.33,261.44 224.16,261.44 221.10,261.44 S216.87,261.44 216.60,260.60Z" fill="#0a0a0a" fill-opacity="0.08" filter="url(#bl09)"/>
<path d="M234.00,255.20 C234.39,254.15 236.08,254.15 240.50,254.15 S246.61,254.15 247.00,255.20 C246.61,256.25 244.92,256.25 240.50,256.25 S234.39,256.25 234.00,255.20Z" fill="#0a0a0a" fill-opacity="0.4" filter="url(#bl09)"/>
<path d="M234.00,262.20 C234.39,261.36 236.08,261.36 240.50,261.36 S246.61,261.36 247.00,262.20 C246.61,263.04 244.92,263.04 240.50,263.04 S234.39,263.04 234.00,262.20Z" fill="#0a0a0a" fill-opacity="0.08" filter="url(#bl09)"/>
<path d="M251.50,256.20 C251.86,255.15 253.42,255.15 257.50,255.15 S263.14,255.15 263.50,256.20 C263.14,257.25 261.58,257.25 257.50,257.25 S251.86,257.25 251.50,256.20Z" fill="#0a0a0a" fill-opacity="0.33" filter="url(#bl09)"/>
<path d="M251.50,263.20 C251.86,262.36 253.42,262.36 257.50,262.36 S263.14,262.36 263.50,263.20 C263.14,264.04 261.58,264.04 257.50,264.04 S251.86,264.04 251.50,263.20Z" fill="#0a0a0a" fill-opacity="0.08" filter="url(#bl09)"/>
<path d="M267.60,258.40 C268.08,255.25 270.16,255.25 275.60,255.25 S283.12,255.25 283.60,258.40 C283.12,261.55 281.04,261.55 275.60,261.55 S268.08,261.55 267.60,258.40Z" fill="#0a0a0a" fill-opacity="1" filter="url(#bl06)"/>
<path d="M268.60,254.50 C269.02,251.88 270.84,251.88 275.60,251.88 S282.18,251.88 282.60,254.50 C282.18,257.12 280.36,257.12 275.60,257.12 S269.02,257.12 268.60,254.50Z" fill="#0a0a0a" fill-opacity="0.25" filter="url(#bl14)"/>
<path d="M270.60,267.00 C270.90,266.26 272.20,266.26 275.60,266.26 S280.30,266.26 280.60,267.00 C280.30,267.74 279.00,267.74 275.60,267.74 S270.90,267.74 270.60,267.00Z" fill="#0a0a0a" fill-opacity="0.12" filter="url(#bl09)"/>
<path d="M284.00,258.40 C284.48,255.25 286.56,255.25 292.00,255.25 S299.52,255.25 300.00,258.40 C299.52,261.55 297.44,261.55 292.00,261.55 S284.48,261.55 284.00,258.40Z" fill="#0a0a0a" fill-opacity="1" filter="url(#bl06)"/>
<path d="M285.00,254.50 C285.42,251.88 287.24,251.88 292.00,251.88 S298.58,251.88 299.00,254.50 C298.58,257.12 296.76,257.12 292.00,257.12 S285.42,257.12 285.00,254.50Z" fill="#0a0a0a" fill-opacity="0.25" filter="url(#bl14)"/>
<path d="M287.00,267.00 C287.30,266.26 288.60,266.26 292.00,266.26 S296.70,266.26 297.00,267.00 C296.70,267.74 295.40,267.74 292.00,267.74 S287.30,267.74 287.00,267.00Z" fill="#0a0a0a" fill-opacity="0.12" filter="url(#bl09)"/>
<path d="M301.10,258.80 C301.58,255.65 303.66,255.65 309.10,255.65 S316.62,255.65 317.10,258.80 C316.62,261.95 314.54,261.95 309.10,261.95 S301.58,261.95 301.10,258.80Z" fill="#0a0a0a" fill-opacity="1" filter="url(#bl06)" transform="rotate(4 309.1 258.8)"/>
<path d="M302.10,254.50 C302.52,251.88 304.34,251.88 309.10,251.88 S315.68,251.88 316.10,254.50 C315.68,257.12 313.86,257.12 309.10,257.12 S302.52,257.12 302.10,254.50Z" fill="#0a0a0a" fill-opacity="0.25" filter="url(#bl14)"/>
<path d="M304.10,267.00 C304.40,266.26 305.70,266.26 309.10,266.26 S313.80,266.26 314.10,267.00 C313.80,267.74 312.50,267.74 309.10,267.74 S304.40,267.74 304.10,267.00Z" fill="#0a0a0a" fill-opacity="0.12" filter="url(#bl09)"/>
<path d="M319.75,260.00 C320.21,257.38 322.23,257.38 327.50,257.38 S334.79,257.38 335.25,260.00 C334.79,262.62 332.77,262.62 327.50,262.62 S320.21,262.62 319.75,260.00Z" fill="#0a0a0a" fill-opacity="1" filter="url(#bl09)"/>
<path d="M320.25,254.00 C320.69,250.32 322.57,250.32 327.50,250.32 S334.31,250.32 334.75,254.00 C334.31,257.68 332.43,257.68 327.50,257.68 S320.69,257.68 320.25,254.00Z" fill="#0a0a0a" fill-opacity="0.36" filter="url(#bl14)"/>
<path d="M337.15,260.00 C337.61,257.38 339.63,257.38 344.90,257.38 S352.19,257.38 352.65,260.00 C352.19,262.62 350.17,262.62 344.90,262.62 S337.61,262.62 337.15,260.00Z" fill="#0a0a0a" fill-opacity="1" filter="url(#bl09)"/>
<path d="M337.65,254.00 C338.08,250.32 339.97,250.32 344.90,250.32 S351.71,250.32 352.15,254.00 C351.71,257.68 349.83,257.68 344.90,257.68 S338.08,257.68 337.65,254.00Z" fill="#0a0a0a" fill-opacity="0.36" filter="url(#bl14)"/>
<path d="M355.25,260.00 C355.71,257.38 357.73,257.38 363.00,257.38 S370.29,257.38 370.75,260.00 C370.29,262.62 368.27,262.62 363.00,262.62 S355.71,262.62 355.25,260.00Z" fill="#0a0a0a" fill-opacity="1" filter="url(#bl09)"/>
<path d="M355.75,254.00 C356.19,250.32 358.07,250.32 363.00,250.32 S369.81,250.32 370.25,254.00 C369.81,257.68 367.93,257.68 363.00,257.68 S356.19,257.68 355.75,254.00Z" fill="#0a0a0a" fill-opacity="0.36" filter="url(#bl14)"/>
<path d="M104.00,268.00 C104.36,266.95 105.92,266.95 110.00,266.95 S115.64,266.95 116.00,268.00 C115.64,269.05 114.08,269.05 110.00,269.05 S104.36,269.05 104.00,268.00Z" fill="#0a0a0a" fill-opacity="0.06" filter="url(#bl14)"/>
<path d="M123.20,268.00 C123.56,266.95 125.12,266.95 129.20,266.95 S134.84,266.95 135.20,268.00 C134.84,269.05 133.28,269.05 129.20,269.05 S123.56,269.05 123.20,268.00Z" fill="#0a0a0a" fill-opacity="0.06" filter="url(#bl14)"/>
<path d="M142.60,268.00 C142.96,266.95 144.52,266.95 148.60,266.95 S154.24,266.95 154.60,268.00 C154.24,269.05 152.68,269.05 148.60,269.05 S142.96,269.05 142.60,268.00Z" fill="#0a0a0a" fill-opacity="0.06" filter="url(#bl14)"/>
</g>
<rect x="45.00" y="247.00" width="332.40" height="27.00" fill="none" stroke="#141414" stroke-width="1.5"/>
<clipPath id="cc1"><rect x="45.0" y="278.7" width="332.4" height="27.19999999999999"/></clipPath>
<rect x="45.00" y="278.70" width="332.40" height="27.20" fill="#c5c5c5" stroke="none" stroke-width="1"/>
<g clip-path="url(#cc1)">
<path d="M47.25,288.60 C47.77,286.81 50.05,286.81 56.00,286.81 S64.22,286.81 64.75,288.60 C64.22,290.39 61.95,290.39 56.00,290.39 S47.77,290.39 47.25,288.60Z" fill="#0a0a0a" fill-opacity="1" filter="url(#bl06)" transform="rotate(8 56.0 288.6)"/>
<path d="M65.05,290.60 C65.58,288.81 67.85,288.81 73.80,288.81 S82.02,288.81 82.55,290.60 C82.02,292.39 79.75,292.39 73.80,292.39 S65.58,292.39 65.05,290.60Z" fill="#0a0a0a" fill-opacity="1" filter="url(#bl06)" transform="rotate(5 73.8 290.6)"/>
<path d="M82.75,291.40 C83.28,289.61 85.55,289.61 91.50,289.61 S99.72,289.61 100.25,291.40 C99.72,293.19 97.45,293.19 91.50,293.19 S83.28,293.19 82.75,291.40Z" fill="#0a0a0a" fill-opacity="1" filter="url(#bl06)" transform="rotate(2 91.5 291.4)"/>
<path d="M101.25,291.00 C101.78,289.21 104.05,289.21 110.00,289.21 S118.22,289.21 118.75,291.00 C118.22,292.79 115.95,292.79 110.00,292.79 S101.78,292.79 101.25,291.00Z" fill="#0a0a0a" fill-opacity="1" filter="url(#bl06)" transform="rotate(-2 110.0 291.0)"/>
<path d="M120.45,291.00 C120.97,289.21 123.25,289.21 129.20,289.21 S137.42,289.21 137.95,291.00 C137.42,292.79 135.15,292.79 129.20,292.79 S120.97,292.79 120.45,291.00Z" fill="#0a0a0a" fill-opacity="1" filter="url(#bl06)"/>
<path d="M139.85,291.40 C140.38,289.61 142.65,289.61 148.60,289.61 S156.82,289.61 157.35,291.40 C156.82,293.19 154.55,293.19 148.60,293.19 S140.38,293.19 139.85,291.40Z" fill="#0a0a0a" fill-opacity="1" filter="url(#bl06)" transform="rotate(3 148.6 291.4)"/>
<path d="M158.55,291.60 C159.08,289.81 161.35,289.81 167.30,289.81 S175.53,289.81 176.05,291.60 C175.53,293.39 173.25,293.39 167.30,293.39 S159.08,293.39 158.55,291.60Z" fill="#0a0a0a" fill-opacity="1" filter="url(#bl06)"/>
<path d="M176.05,291.60 C176.58,289.81 178.85,289.81 184.80,289.81 S193.03,289.81 193.55,291.60 C193.03,293.39 190.75,293.39 184.80,293.39 S176.58,293.39 176.05,291.60Z" fill="#0a0a0a" fill-opacity="1" filter="url(#bl06)"/>
<path d="M194.15,291.40 C194.68,289.61 196.95,289.61 202.90,289.61 S211.12,289.61 211.65,291.40 C211.12,293.19 208.85,293.19 202.90,293.19 S194.68,293.19 194.15,291.40Z" fill="#0a0a0a" fill-opacity="1" filter="url(#bl06)" transform="rotate(-2 202.9 291.4)"/>
<path d="M212.35,291.00 C212.88,289.37 215.15,289.37 221.10,289.37 S229.32,289.37 229.85,291.00 C229.32,292.63 227.05,292.63 221.10,292.63 S212.88,292.63 212.35,291.00Z" fill="#0a0a0a" fill-opacity="1" filter="url(#bl06)" transform="rotate(-2 221.1 291.0)"/>
<path d="M231.75,291.00 C232.28,289.37 234.55,289.37 240.50,289.37 S248.72,289.37 249.25,291.00 C248.72,292.63 246.45,292.63 240.50,292.63 S232.28,292.63 231.75,291.00Z" fill="#0a0a0a" fill-opacity="1" filter="url(#bl06)"/>
<path d="M248.75,291.20 C249.28,289.57 251.55,289.57 257.50,289.57 S265.73,289.57 266.25,291.20 C265.73,292.83 263.45,292.83 257.50,292.83 S249.28,292.83 248.75,291.20Z" fill="#0a0a0a" fill-opacity="1" filter="url(#bl06)" transform="rotate(2 257.5 291.2)"/>
<path d="M266.85,291.40 C267.38,289.77 269.65,289.77 275.60,289.77 S283.83,289.77 284.35,291.40 C283.83,293.03 281.55,293.03 275.60,293.03 S267.38,293.03 266.85,291.40Z" fill="#0a0a0a" fill-opacity="1" filter="url(#bl06)"/>
<path d="M283.25,291.40 C283.77,289.77 286.05,289.77 292.00,289.77 S300.23,289.77 300.75,291.40 C300.23,293.03 297.95,293.03 292.00,293.03 S283.77,293.03 283.25,291.40Z" fill="#0a0a0a" fill-opacity="1" filter="url(#bl06)"/>
<path d="M300.35,291.30 C300.88,289.67 303.15,289.67 309.10,289.67 S317.33,289.67 317.85,291.30 C317.33,292.93 315.05,292.93 309.10,292.93 S300.88,292.93 300.35,291.30Z" fill="#0a0a0a" fill-opacity="1" filter="url(#bl06)"/>
<path d="M318.75,291.20 C319.27,289.57 321.55,289.57 327.50,289.57 S335.73,289.57 336.25,291.20 C335.73,292.83 333.45,292.83 327.50,292.83 S319.27,292.83 318.75,291.20Z" fill="#0a0a0a" fill-opacity="1" filter="url(#bl06)" transform="rotate(-2 327.5 291.2)"/>
<path d="M336.15,291.00 C336.67,289.37 338.95,289.37 344.90,289.37 S353.12,289.37 353.65,291.00 C353.12,292.63 350.85,292.63 344.90,292.63 S336.67,292.63 336.15,291.00Z" fill="#0a0a0a" fill-opacity="1" filter="url(#bl06)" transform="rotate(-5 344.9 291.0)"/>
<path d="M354.25,289.60 C354.77,287.97 357.05,287.97 363.00,287.97 S371.23,287.97 371.75,289.60 C371.23,291.23 368.95,291.23 363.00,291.23 S354.77,291.23 354.25,289.60Z" fill="#0a0a0a" fill-opacity="1" filter="url(#bl06)" transform="rotate(-9 363.0 289.6)"/>
</g>
<rect x="45.00" y="278.70" width="332.40" height="27.20" fill="none" stroke="#141414" stroke-width="1.5"/>
<clipPath id="cc2"><rect x="45.0" y="310.1" width="332.4" height="26.5"/></clipPath>
<rect x="45.00" y="310.10" width="332.40" height="26.50" fill="#c1c1c1" stroke="none" stroke-width="1"/>
<g clip-path="url(#cc2)">
<path d="M48.50,328.30 C48.95,326.41 50.90,326.41 56.00,326.41 S63.05,326.41 63.50,328.30 C63.05,330.19 61.10,330.19 56.00,330.19 S48.95,330.19 48.50,328.30Z" fill="#0a0a0a" fill-opacity="1" filter="url(#bl06)"/>
<path d="M65.80,326.30 C66.28,324.31 68.36,324.31 73.80,324.31 S81.32,324.31 81.80,326.30 C81.32,328.30 79.24,328.30 73.80,328.30 S66.28,328.30 65.80,326.30Z" fill="#0a0a0a" fill-opacity="1" filter="url(#bl06)" transform="rotate(-8 73.8 326.3)"/>
<path d="M83.50,324.30 C83.98,322.31 86.06,322.31 91.50,322.31 S99.02,322.31 99.50,324.30 C99.02,326.30 96.94,326.30 91.50,326.30 S83.98,326.30 83.50,324.30Z" fill="#0a0a0a" fill-opacity="1" filter="url(#bl06)" transform="rotate(-8 91.5 324.3)"/>
<path d="M102.00,322.80 C102.48,320.91 104.56,320.91 110.00,320.91 S117.52,320.91 118.00,322.80 C117.52,324.69 115.44,324.69 110.00,324.69 S102.48,324.69 102.00,322.80Z" fill="#0a0a0a" fill-opacity="1" filter="url(#bl06)" transform="rotate(-5 110.0 322.8)"/>
<path d="M121.70,322.00 C122.15,320.21 124.10,320.21 129.20,320.21 S136.25,320.21 136.70,322.00 C136.25,323.79 134.30,323.79 129.20,323.79 S122.15,323.79 121.70,322.00Z" fill="#0a0a0a" fill-opacity="1" filter="url(#bl06)" transform="rotate(-3 129.2 322.0)"/>
<path d="M141.10,321.60 C141.55,319.92 143.50,319.92 148.60,319.92 S155.65,319.92 156.10,321.60 C155.65,323.28 153.70,323.28 148.60,323.28 S141.55,323.28 141.10,321.60Z" fill="#0a0a0a" fill-opacity="1" filter="url(#bl06)" transform="rotate(-3 148.6 321.6)"/>
<path d="M159.30,322.20 C159.78,319.89 161.86,319.89 167.30,319.89 S174.82,319.89 175.30,322.20 C174.82,324.51 172.74,324.51 167.30,324.51 S159.78,324.51 159.30,322.20Z" fill="#0a0a0a" fill-opacity="1" filter="url(#bl06)"/>
<path d="M160.80,317.40 C161.19,316.77 162.88,316.77 167.30,316.77 S173.41,316.77 173.80,317.40 C173.41,318.03 171.72,318.03 167.30,318.03 S161.19,318.03 160.80,317.40Z" fill="#0a0a0a" fill-opacity="0.5" filter="url(#bl06)"/>
<path d="M176.80,322.00 C177.28,319.69 179.36,319.69 184.80,319.69 S192.32,319.69 192.80,322.00 C192.32,324.31 190.24,324.31 184.80,324.31 S177.28,324.31 176.80,322.00Z" fill="#0a0a0a" fill-opacity="1" filter="url(#bl06)"/>
<path d="M178.30,317.40 C178.69,316.77 180.38,316.77 184.80,316.77 S190.91,316.77 191.30,317.40 C190.91,318.03 189.22,318.03 184.80,318.03 S178.69,318.03 178.30,317.40Z" fill="#0a0a0a" fill-opacity="0.5" filter="url(#bl06)"/>
<path d="M194.90,321.80 C195.38,319.49 197.46,319.49 202.90,319.49 S210.42,319.49 210.90,321.80 C210.42,324.11 208.34,324.11 202.90,324.11 S195.38,324.11 194.90,321.80Z" fill="#0a0a0a" fill-opacity="1" filter="url(#bl06)"/>
<path d="M196.40,317.40 C196.79,316.77 198.48,316.77 202.90,316.77 S209.01,316.77 209.40,317.40 C209.01,318.03 207.32,318.03 202.90,318.03 S196.79,318.03 196.40,317.40Z" fill="#0a0a0a" fill-opacity="0.5" filter="url(#bl06)"/>
<path d="M216.10,320.80 C216.40,319.54 217.70,319.54 221.10,319.54 S225.80,319.54 226.10,320.80 C225.80,322.06 224.50,322.06 221.10,322.06 S216.40,322.06 216.10,320.80Z" fill="#0a0a0a" fill-opacity="1" filter="url(#bl06)" transform="rotate(4 221.1 320.8)"/>
<path d="M233.50,321.80 C233.92,320.12 235.74,320.12 240.50,320.12 S247.08,320.12 247.50,321.80 C247.08,323.48 245.26,323.48 240.50,323.48 S233.92,323.48 233.50,321.80Z" fill="#0a0a0a" fill-opacity="1" filter="url(#bl06)"/>
<path d="M250.00,322.00 C250.45,320.21 252.40,320.21 257.50,320.21 S264.55,320.21 265.00,322.00 C264.55,323.79 262.60,323.79 257.50,323.79 S250.45,323.79 250.00,322.00Z" fill="#0a0a0a" fill-opacity="1" filter="url(#bl06)"/>
<path d="M267.60,322.20 C268.08,319.57 270.16,319.57 275.60,319.57 S283.12,319.57 283.60,322.20 C283.12,324.82 281.04,324.82 275.60,324.82 S268.08,324.82 267.60,322.20Z" fill="#0a0a0a" fill-opacity="1" filter="url(#bl06)"/>
<path d="M284.00,322.40 C284.48,319.77 286.56,319.77 292.00,319.77 S299.52,319.77 300.00,322.40 C299.52,325.02 297.44,325.02 292.00,325.02 S284.48,325.02 284.00,322.40Z" fill="#0a0a0a" fill-opacity="1" filter="url(#bl06)"/>
<path d="M301.60,323.60 C302.05,321.40 304.00,321.40 309.10,321.40 S316.15,321.40 316.60,323.60 C316.15,325.81 314.20,325.81 309.10,325.81 S302.05,325.81 301.60,323.60Z" fill="#0a0a0a" fill-opacity="1" filter="url(#bl06)" transform="rotate(4 309.1 323.6)"/>
<path d="M320.50,324.80 C320.92,322.91 322.74,322.91 327.50,322.91 S334.08,322.91 334.50,324.80 C334.08,326.69 332.26,326.69 327.50,326.69 S320.92,326.69 320.50,324.80Z" fill="#0a0a0a" fill-opacity="1" filter="url(#bl06)"/>
<path d="M321.50,321.20 C321.86,319.89 323.42,319.89 327.50,319.89 S333.14,319.89 333.50,321.20 C333.14,322.51 331.58,322.51 327.50,322.51 S321.86,322.51 321.50,321.20Z" fill="#0a0a0a" fill-opacity="0.3" filter="url(#bl09)"/>
<path d="M337.90,324.60 C338.32,322.61 340.14,322.61 344.90,322.61 S351.48,322.61 351.90,324.60 C351.48,326.60 349.66,326.60 344.90,326.60 S338.32,326.60 337.90,324.60Z" fill="#0a0a0a" fill-opacity="1" filter="url(#bl06)" transform="rotate(-4 344.9 324.6)"/>
<path d="M338.90,321.20 C339.26,319.89 340.82,319.89 344.90,319.89 S350.54,319.89 350.90,321.20 C350.54,322.51 348.98,322.51 344.90,322.51 S339.26,322.51 338.90,321.20Z" fill="#0a0a0a" fill-opacity="0.3" filter="url(#bl09)"/>
<path d="M357.00,323.60 C357.36,321.61 358.92,321.61 363.00,321.61 S368.64,321.61 369.00,323.60 C368.64,325.60 367.08,325.60 363.00,325.60 S357.36,325.60 357.00,323.60Z" fill="#0a0a0a" fill-opacity="1" filter="url(#bl06)" transform="rotate(-4 363.0 323.6)"/>
<path d="M357.00,321.20 C357.36,319.89 358.92,319.89 363.00,319.89 S368.64,319.89 369.00,321.20 C368.64,322.51 367.08,322.51 363.00,322.51 S357.36,322.51 357.00,321.20Z" fill="#0a0a0a" fill-opacity="0.3" filter="url(#bl09)"/>
</g>
<rect x="45.00" y="310.10" width="332.40" height="26.50" fill="none" stroke="#141414" stroke-width="1.5"/>
<line x1="49.60" y1="227.20" x2="148.30" y2="227.20" stroke="#111" stroke-width="1.4"/>
<text x="98.20" y="220.00" font-size="14.2" text-anchor="middle">EV</text>
<line x1="160.40" y1="227.20" x2="260.00" y2="227.20" stroke="#111" stroke-width="1.4"/>
<text x="210.00" y="220.00" font-size="14.2" text-anchor="middle">WT</text>
<line x1="265.80" y1="227.20" x2="364.80" y2="227.20" stroke="#111" stroke-width="1.4"/>
<text x="322.30" y="220.00" font-size="14.2" text-anchor="middle">S114A</text>
<line x1="51.30" y1="244.00" x2="96.90" y2="244.00" stroke="#111" stroke-width="1.4"/>
<text x="72.00" y="239.00" font-size="11" text-anchor="middle">Control</text>
<line x1="101.30" y1="244.00" x2="146.10" y2="244.00" stroke="#111" stroke-width="1.4"/>
<text x="123.30" y="239.00" font-size="11" text-anchor="middle">Ethanol</text>
<line x1="162.10" y1="244.00" x2="207.00" y2="244.00" stroke="#111" stroke-width="1.4"/>
<text x="183.70" y="239.00" font-size="11" text-anchor="middle">Control</text>
<line x1="214.00" y1="244.00" x2="258.60" y2="244.00" stroke="#111" stroke-width="1.4"/>
<text x="237.90" y="239.00" font-size="11" text-anchor="middle">Ethanol</text>
<line x1="269.20" y1="244.00" x2="314.90" y2="244.00" stroke="#111" stroke-width="1.4"/>
<text x="291.65" y="239.00" font-size="11" text-anchor="middle">Control</text>
<line x1="321.50" y1="244.00" x2="366.90" y2="244.00" stroke="#111" stroke-width="1.4"/>
<text x="343.00" y="239.00" font-size="11" text-anchor="middle">Ethanol</text>
<text x="37.60" y="255.90" font-size="9.7" text-anchor="end">50 kDa</text>
<line x1="38.90" y1="252.50" x2="45.00" y2="252.50" stroke="#111" stroke-width="1.4"/>
<text x="37.60" y="303.50" font-size="9.7" text-anchor="end">15 kDa</text>
<line x1="38.90" y1="300.10" x2="45.00" y2="300.10" stroke="#111" stroke-width="1.4"/>
<text x="37.60" y="327.50" font-size="9.7" text-anchor="end">50 kDa</text>
<line x1="38.90" y1="324.10" x2="45.00" y2="324.10" stroke="#111" stroke-width="1.4"/>
<text x="383.60" y="263.10" font-size="14.2">His-Tag</text>
<text x="383.40" y="295.60" font-size="14.2">PIN1</text>
<text x="383.80" y="327.70" font-size="14.2">β-Actin</text>
</g>
<g id="panel-d">
<text x="444.80" y="213.40" font-size="22.5">d</text>
<rect x="528.80" y="262.70" width="15.40" height="72.40" fill="#3b56a5" stroke="#111" stroke-width="1.4"/>
<line x1="536.50" y1="257.34" x2="536.50" y2="268.06" stroke="#111" stroke-width="1.3"/>
<line x1="532.50" y1="257.34" x2="540.50" y2="257.34" stroke="#111" stroke-width="1.3"/>
<line x1="532.50" y1="268.06" x2="540.50" y2="268.06" stroke="#111" stroke-width="1.3"/>
<circle cx="536.70" cy="253.29" r="2.40" fill="#111"/>
<circle cx="532.90" cy="269.72" r="2.40" fill="#111"/>
<circle cx="540.60" cy="264.87" r="2.40" fill="#111"/>
<rect x="547.80" y="317.07" width="15.40" height="18.03" fill="#3b56a5" stroke="#111" stroke-width="1.4"/>
<line x1="555.50" y1="309.98" x2="555.50" y2="324.17" stroke="#111" stroke-width="1.3"/>
<line x1="551.50" y1="309.98" x2="559.50" y2="309.98" stroke="#111" stroke-width="1.3"/>
<line x1="551.50" y1="324.17" x2="559.50" y2="324.17" stroke="#111" stroke-width="1.3"/>
<circle cx="555.70" cy="303.97" r="2.40" fill="#111"/>
<circle cx="551.90" cy="327.50" r="2.40" fill="#111"/>
<circle cx="559.60" cy="320.33" r="2.40" fill="#111"/>
<rect x="575.20" y="242.43" width="15.40" height="92.67" fill="#f44336" stroke="#111" stroke-width="1.4"/>
<line x1="582.90" y1="224.33" x2="582.90" y2="260.53" stroke="#111" stroke-width="1.3"/>
<line x1="578.90" y1="224.33" x2="586.90" y2="224.33" stroke="#111" stroke-width="1.3"/>
<line x1="578.90" y1="260.53" x2="586.90" y2="260.53" stroke="#111" stroke-width="1.3"/>
<rect x="580.60" y="222.03" width="4.60" height="4.60" fill="#111"/>
<rect x="580.30" y="240.13" width="4.60" height="4.60" fill="#111"/>
<rect x="580.60" y="258.23" width="4.60" height="4.60" fill="#111"/>
<rect x="594.30" y="271.68" width="15.40" height="63.42" fill="#f44336" stroke="#111" stroke-width="1.4"/>
<line x1="602.00" y1="264.65" x2="602.00" y2="278.70" stroke="#111" stroke-width="1.3"/>
<line x1="598.00" y1="264.65" x2="606.00" y2="264.65" stroke="#111" stroke-width="1.3"/>
<line x1="598.00" y1="278.70" x2="606.00" y2="278.70" stroke="#111" stroke-width="1.3"/>
<rect x="599.70" y="262.57" width="4.60" height="4.60" fill="#111"/>
<rect x="595.90" y="276.55" width="4.60" height="4.60" fill="#111"/>
<rect x="603.40" y="269.52" width="4.60" height="4.60" fill="#111"/>
<line x1="523.20" y1="207.60" x2="523.20" y2="335.90" stroke="#111" stroke-width="1.7"/>
<line x1="522.40" y1="335.10" x2="615.40" y2="335.10" stroke="#111" stroke-width="1.7"/>
<line x1="519.00" y1="335.10" x2="523.20" y2="335.10" stroke="#111" stroke-width="1.3"/>
<text x="518.40" y="339.00" font-size="11.3" font-weight="bold" text-anchor="end">0</text>
<line x1="519.00" y1="317.00" x2="523.20" y2="317.00" stroke="#111" stroke-width="1.3"/>
<text x="518.40" y="320.90" font-size="11.3" font-weight="bold" text-anchor="end">25</text>
<line x1="519.00" y1="298.90" x2="523.20" y2="298.90" stroke="#111" stroke-width="1.3"/>
<text x="518.40" y="302.80" font-size="11.3" font-weight="bold" text-anchor="end">50</text>
<line x1="519.00" y1="280.80" x2="523.20" y2="280.80" stroke="#111" stroke-width="1.3"/>
<text x="518.40" y="284.70" font-size="11.3" font-weight="bold" text-anchor="end">75</text>
<line x1="519.00" y1="262.70" x2="523.20" y2="262.70" stroke="#111" stroke-width="1.3"/>
<text x="518.40" y="266.60" font-size="11.3" font-weight="bold" text-anchor="end">100</text>
<line x1="519.00" y1="244.60" x2="523.20" y2="244.60" stroke="#111" stroke-width="1.3"/>
<text x="518.40" y="248.50" font-size="11.3" font-weight="bold" text-anchor="end">125</text>
<line x1="519.00" y1="226.50" x2="523.20" y2="226.50" stroke="#111" stroke-width="1.3"/>
<text x="518.40" y="230.40" font-size="11.3" font-weight="bold" text-anchor="end">150</text>
<line x1="519.00" y1="208.40" x2="523.20" y2="208.40" stroke="#111" stroke-width="1.3"/>
<text x="518.40" y="212.30" font-size="11.3" font-weight="bold" text-anchor="end">175</text>
<line x1="536.50" y1="335.10" x2="536.50" y2="338.50" stroke="#111" stroke-width="1.2"/>
<text x="540.10" y="349.30" font-size="12.3" text-anchor="end" transform="rotate(-45 540.10 349.30)">Control</text>
<line x1="555.50" y1="335.10" x2="555.50" y2="338.50" stroke="#111" stroke-width="1.2"/>
<text x="559.10" y="349.30" font-size="12.3" text-anchor="end" transform="rotate(-45 559.10 349.30)">Ethanol</text>
<line x1="582.90" y1="335.10" x2="582.90" y2="338.50" stroke="#111" stroke-width="1.2"/>
<text x="586.50" y="349.30" font-size="12.3" text-anchor="end" transform="rotate(-45 586.50 349.30)">Control</text>
<line x1="602.00" y1="335.10" x2="602.00" y2="338.50" stroke="#111" stroke-width="1.2"/>
<text x="605.60" y="349.30" font-size="12.3" text-anchor="end" transform="rotate(-45 605.60 349.30)">Ethanol</text>
<text x="480.60" y="271.00" font-size="12.1" text-anchor="middle" transform="rotate(-90 480.60 271.00)">Densitometric ratio</text>
<text x="496.50" y="270.80" font-size="12.1" text-anchor="middle" transform="rotate(-90 496.50 270.80)">(His-Tag/β-Actin)</text>
<path d="M536.5,232.9 V230.5 H558.6 V232.9" fill="none" stroke="#111" stroke-width="1.2"/>
<text x="547.55" y="232.70" font-size="12" text-anchor="middle">*</text>
<path d="M555.2,217.8 V215.4 H603.4 V217.8" fill="none" stroke="#111" stroke-width="1.2"/>
<text x="579.30" y="217.60" font-size="12" text-anchor="middle">*</text>
<rect x="617.00" y="210.20" width="14.30" height="7.80" fill="#3b56a5" stroke="#111" stroke-width="1.4" rx="0.6"/>
<text x="638.40" y="217.60" font-size="10.8">WT</text>
<rect x="617.00" y="221.30" width="14.30" height="7.80" fill="#f44336" stroke="#111" stroke-width="1.4" rx="0.6"/>
<text x="638.40" y="228.70" font-size="10.8">S114A</text>
</g>
<g id="panel-e">
<text x="-0.40" y="384.40" font-size="22.5">e</text>
<clipPath id="ec0"><rect x="72.1" y="418.7" width="171.4" height="20.900000000000034"/></clipPath>
<rect x="72.10" y="418.70" width="86.80" height="20.90" fill="#c0c0c0" stroke="none" stroke-width="1"/>
<rect x="158.90" y="418.70" width="84.60" height="20.90" fill="#c8c8c8" stroke="none" stroke-width="1"/>
<g clip-path="url(#ec0)">
<path d="M79.10,429.60 C79.79,427.71 82.78,427.71 90.60,427.71 S101.41,427.71 102.10,429.60 C101.41,431.49 98.42,431.49 90.60,431.49 S79.79,431.49 79.10,429.60Z" fill="#0a0a0a" fill-opacity="0.78" filter="url(#bl09)"/>
<path d="M82.10,422.30 C82.61,421.67 84.82,421.67 90.60,421.67 S98.59,421.67 99.10,422.30 C98.59,422.93 96.38,422.93 90.60,422.93 S82.61,422.93 82.10,422.30Z" fill="#0a0a0a" fill-opacity="0.16" filter="url(#bl09)"/>
<path d="M108.80,430.00 C109.43,428.21 112.16,428.21 119.30,428.21 S129.17,428.21 129.80,430.00 C129.17,431.79 126.44,431.79 119.30,431.79 S109.43,431.79 108.80,430.00Z" fill="#0a0a0a" fill-opacity="0.72" filter="url(#bl09)"/>
<path d="M111.30,422.60 C111.75,421.97 113.70,421.97 118.80,421.97 S125.85,421.97 126.30,422.60 C125.85,423.23 123.90,423.23 118.80,423.23 S111.75,423.23 111.30,422.60Z" fill="#0a0a0a" fill-opacity="0.18" filter="url(#bl09)"/>
<path d="M134.80,429.70 C135.40,428.33 138.00,428.33 144.80,428.33 S154.20,428.33 154.80,429.70 C154.20,431.06 151.60,431.06 144.80,431.06 S135.40,431.06 134.80,429.70Z" fill="#0a0a0a" fill-opacity="0.42" filter="url(#bl09)"/>
<path d="M136.30,423.20 C136.81,422.46 139.02,422.46 144.80,422.46 S152.79,422.46 153.30,423.20 C152.79,423.94 150.58,423.94 144.80,423.94 S136.81,423.94 136.30,423.20Z" fill="#0a0a0a" fill-opacity="0.14" filter="url(#bl09)"/>
<path d="M161.70,429.10 C162.36,426.48 165.22,426.48 172.70,426.48 S183.04,426.48 183.70,429.10 C183.04,431.73 180.18,431.73 172.70,431.73 S162.36,431.73 161.70,429.10Z" fill="#0a0a0a" fill-opacity="0.95" filter="url(#bl09)"/>
<path d="M162.58,429.10 C163.19,427.26 165.82,427.26 172.70,427.26 S182.21,427.26 182.82,429.10 C182.21,430.94 179.58,430.94 172.70,430.94 S163.19,430.94 162.58,429.10Z" fill="#0a0a0a" fill-opacity="0.95" filter="url(#bl09)"/>
<path d="M191.70,428.80 C192.21,427.23 194.42,427.23 200.20,427.23 S208.19,427.23 208.70,428.80 C208.19,430.38 205.98,430.38 200.20,430.38 S192.21,430.38 191.70,428.80Z" fill="#0a0a0a" fill-opacity="0.16" filter="url(#bl14)"/>
<path d="M220.50,426.70 C221.07,425.75 223.54,425.75 230.00,425.75 S238.93,425.75 239.50,426.70 C238.93,427.64 236.46,427.64 230.00,427.64 S221.07,427.64 220.50,426.70Z" fill="#0a0a0a" fill-opacity="0.2" filter="url(#bl09)"/>
<path d="M220.50,430.70 C221.07,429.55 223.54,429.55 230.00,429.55 S238.93,429.55 239.50,430.70 C238.93,431.85 236.46,431.85 230.00,431.85 S221.07,431.85 220.50,430.70Z" fill="#0a0a0a" fill-opacity="0.22" filter="url(#bl09)"/>
</g>
<rect x="72.10" y="418.70" width="171.40" height="20.90" fill="none" stroke="#141414" stroke-width="1.5"/>
<line x1="158.90" y1="418.70" x2="158.90" y2="439.60" stroke="#141414" stroke-width="1.4"/>
<clipPath id="ec1"><rect x="72.1" y="442.8" width="171.4" height="20.899999999999977"/></clipPath>
<rect x="72.10" y="442.80" width="86.80" height="20.90" fill="#c0c0c0" stroke="none" stroke-width="1"/>
<rect x="158.90" y="442.80" width="84.60" height="20.90" fill="#c8c8c8" stroke="none" stroke-width="1"/>
<g clip-path="url(#ec1)">
<path d="M76.30,452.90 C77.05,450.59 80.30,450.59 88.80,450.59 S100.55,450.59 101.30,452.90 C100.55,455.21 97.30,455.21 88.80,455.21 S77.05,455.21 76.30,452.90Z" fill="#0a0a0a" fill-opacity="0.95" filter="url(#bl09)"/>
<path d="M77.30,452.90 C77.99,451.28 80.98,451.28 88.80,451.28 S99.61,451.28 100.30,452.90 C99.61,454.52 96.62,454.52 88.80,454.52 S77.99,454.52 77.30,452.90Z" fill="#0a0a0a" fill-opacity="0.95" filter="url(#bl09)"/>
<path d="M105.50,452.90 C106.22,450.48 109.34,450.48 117.50,450.48 S128.78,450.48 129.50,452.90 C128.78,455.31 125.66,455.31 117.50,455.31 S106.22,455.31 105.50,452.90Z" fill="#0a0a0a" fill-opacity="0.97" filter="url(#bl09)"/>
<path d="M106.46,452.90 C107.12,451.21 109.99,451.21 117.50,451.21 S127.88,451.21 128.54,452.90 C127.88,454.59 125.01,454.59 117.50,454.59 S107.12,454.59 106.46,452.90Z" fill="#0a0a0a" fill-opacity="0.95" filter="url(#bl09)"/>
<path d="M132.30,452.60 C133.02,449.35 136.14,449.35 144.30,449.35 S155.58,449.35 156.30,452.60 C155.58,455.86 152.46,455.86 144.30,455.86 S133.02,455.86 132.30,452.60Z" fill="#0a0a0a" fill-opacity="0.95" filter="url(#bl09)"/>
<path d="M133.26,452.60 C133.92,450.32 136.79,450.32 144.30,450.32 S154.68,450.32 155.34,452.60 C154.68,454.88 151.81,454.88 144.30,454.88 S133.92,454.88 133.26,452.60Z" fill="#0a0a0a" fill-opacity="0.95" filter="url(#bl09)"/>
<path d="M160.70,453.40 C161.42,450.77 164.54,450.77 172.70,450.77 S183.98,450.77 184.70,453.40 C183.98,456.02 180.86,456.02 172.70,456.02 S161.42,456.02 160.70,453.40Z" fill="#0a0a0a" fill-opacity="0.97" filter="url(#bl09)"/>
<path d="M161.66,453.40 C162.32,451.56 165.19,451.56 172.70,451.56 S183.08,451.56 183.74,453.40 C183.08,455.24 180.21,455.24 172.70,455.24 S162.32,455.24 161.66,453.40Z" fill="#0a0a0a" fill-opacity="0.95" filter="url(#bl09)"/>
<path d="M187.70,452.80 C188.42,450.49 191.54,450.49 199.70,450.49 S210.98,450.49 211.70,452.80 C210.98,455.11 207.86,455.11 199.70,455.11 S188.42,455.11 187.70,452.80Z" fill="#0a0a0a" fill-opacity="0.95" filter="url(#bl09)"/>
<path d="M188.66,452.80 C189.32,451.18 192.19,451.18 199.70,451.18 S210.08,451.18 210.74,452.80 C210.08,454.42 207.21,454.42 199.70,454.42 S189.32,454.42 188.66,452.80Z" fill="#0a0a0a" fill-opacity="0.95" filter="url(#bl09)"/>
<path d="M215.30,452.60 C216.05,450.29 219.30,450.29 227.80,450.29 S239.55,450.29 240.30,452.60 C239.55,454.91 236.30,454.91 227.80,454.91 S216.05,454.91 215.30,452.60Z" fill="#0a0a0a" fill-opacity="0.95" filter="url(#bl09)"/>
<path d="M216.30,452.60 C216.99,450.98 219.98,450.98 227.80,450.98 S238.61,450.98 239.30,452.60 C238.61,454.22 235.62,454.22 227.80,454.22 S216.99,454.22 216.30,452.60Z" fill="#0a0a0a" fill-opacity="0.95" filter="url(#bl09)"/>
</g>
<rect x="72.10" y="442.80" width="171.40" height="20.90" fill="none" stroke="#141414" stroke-width="1.5"/>
<line x1="158.90" y1="442.80" x2="158.90" y2="463.70" stroke="#141414" stroke-width="1.4"/>
<clipPath id="ec2"><rect x="72.1" y="467.1" width="171.4" height="21.299999999999955"/></clipPath>
<rect x="72.10" y="467.10" width="86.80" height="21.30" fill="#c0c0c0" stroke="none" stroke-width="1"/>
<rect x="158.90" y="467.10" width="84.60" height="21.30" fill="#c8c8c8" stroke="none" stroke-width="1"/>
<g clip-path="url(#ec2)">
<path d="M76.00,479.60 C76.69,476.35 79.68,476.35 87.50,476.35 S98.31,476.35 99.00,479.60 C98.31,482.86 95.32,482.86 87.50,482.86 S76.69,482.86 76.00,479.60Z" fill="#0a0a0a" fill-opacity="0.97" filter="url(#bl09)"/>
<path d="M76.92,479.60 C77.55,477.32 80.31,477.32 87.50,477.32 S97.45,477.32 98.08,479.60 C97.45,481.88 94.69,481.88 87.50,481.88 S77.55,481.88 76.92,479.60Z" fill="#0a0a0a" fill-opacity="0.95" filter="url(#bl09)"/>
<path d="M100.50,479.70 C101.46,477.28 105.62,477.28 116.50,477.28 S131.54,477.28 132.50,479.70 C131.54,482.12 127.38,482.12 116.50,482.12 S101.46,482.12 100.50,479.70Z" fill="#0a0a0a" fill-opacity="0.95" filter="url(#bl09)"/>
<path d="M101.78,479.70 C102.66,478.01 106.49,478.01 116.50,478.01 S130.34,478.01 131.22,479.70 C130.34,481.39 126.51,481.39 116.50,481.39 S102.66,481.39 101.78,479.70Z" fill="#0a0a0a" fill-opacity="0.95" filter="url(#bl09)"/>
<path d="M135.50,479.00 C136.10,477.32 138.70,477.32 145.50,477.32 S154.90,477.32 155.50,479.00 C154.90,480.68 152.30,480.68 145.50,480.68 S136.10,480.68 135.50,479.00Z" fill="#0a0a0a" fill-opacity="0.6" filter="url(#bl09)"/>
<path d="M162.00,478.90 C162.81,475.44 166.32,475.44 175.50,475.44 S188.19,475.44 189.00,478.90 C188.19,482.36 184.68,482.36 175.50,482.36 S162.81,482.36 162.00,478.90Z" fill="#0a0a0a" fill-opacity="1" filter="url(#bl09)"/>
<path d="M163.08,478.90 C163.83,476.47 167.05,476.47 175.50,476.47 S187.17,476.47 187.92,478.90 C187.17,481.33 183.95,481.33 175.50,481.33 S163.83,481.33 163.08,478.90Z" fill="#0a0a0a" fill-opacity="0.95" filter="url(#bl09)"/>
<path d="M191.00,477.90 C191.69,474.75 194.68,474.75 202.50,474.75 S213.31,474.75 214.00,477.90 C213.31,481.05 210.32,481.05 202.50,481.05 S191.69,481.05 191.00,477.90Z" fill="#0a0a0a" fill-opacity="1" filter="url(#bl09)"/>
<path d="M191.92,477.90 C192.55,475.69 195.31,475.69 202.50,475.69 S212.45,475.69 213.08,477.90 C212.45,480.10 209.69,480.10 202.50,480.10 S192.55,480.10 191.92,477.90Z" fill="#0a0a0a" fill-opacity="0.95" filter="url(#bl09)"/>
<path d="M217.70,478.30 C218.33,476.73 221.06,476.73 228.20,476.73 S238.07,476.73 238.70,478.30 C238.07,479.88 235.34,479.88 228.20,479.88 S218.33,479.88 217.70,478.30Z" fill="#0a0a0a" fill-opacity="0.92" filter="url(#bl09)"/>
<path d="M218.54,478.30 C219.12,477.20 221.63,477.20 228.20,477.20 S237.28,477.20 237.86,478.30 C237.28,479.40 234.77,479.40 228.20,479.40 S219.12,479.40 218.54,478.30Z" fill="#0a0a0a" fill-opacity="0.95" filter="url(#bl09)"/>
</g>
<rect x="72.10" y="467.10" width="171.40" height="21.30" fill="none" stroke="#141414" stroke-width="1.5"/>
<line x1="158.90" y1="467.10" x2="158.90" y2="488.40" stroke="#141414" stroke-width="1.4"/>
<clipPath id="ec3"><rect x="72.1" y="491.2" width="171.4" height="21.80000000000001"/></clipPath>
<rect x="72.10" y="491.20" width="86.80" height="21.80" fill="#c0c0c0" stroke="none" stroke-width="1"/>
<rect x="158.90" y="491.20" width="84.60" height="21.80" fill="#c8c8c8" stroke="none" stroke-width="1"/>
<g clip-path="url(#ec3)">
<path d="M72,500.6 C78,500.8 84,501.6 89,502.4 C94,501.6 100,501.4 110,501.4 S128,501.2 134,501.2" fill="none" stroke="#0a0a0a" stroke-width="4.0" filter="url(#bl09)" stroke-linecap="round"/>
<path d="M85.5,502.6 L89.2,506.2 L93,502.6Z" fill="#0a0a0a" stroke="none" stroke-width="1" filter="url(#bl06)"/>
<path d="M133.50,501.40 C134.25,499.19 137.50,499.19 146.00,499.19 S157.75,499.19 158.50,501.40 C157.75,503.60 154.50,503.60 146.00,503.60 S134.25,503.60 133.50,501.40Z" fill="#0a0a0a" fill-opacity="0.95" filter="url(#bl09)"/>
<path d="M134.50,501.40 C135.19,499.86 138.18,499.86 146.00,499.86 S156.81,499.86 157.50,501.40 C156.81,502.94 153.82,502.94 146.00,502.94 S135.19,502.94 134.50,501.40Z" fill="#0a0a0a" fill-opacity="0.95" filter="url(#bl09)"/>
<path d="M159.00,501.80 C159.90,499.18 163.80,499.18 174.00,499.18 S188.10,499.18 189.00,501.80 C188.10,504.43 184.20,504.43 174.00,504.43 S159.90,504.43 159.00,501.80Z" fill="#0a0a0a" fill-opacity="0.97" filter="url(#bl09)"/>
<path d="M160.20,501.80 C161.03,499.96 164.62,499.96 174.00,499.96 S186.97,499.96 187.80,501.80 C186.97,503.64 183.38,503.64 174.00,503.64 S161.03,503.64 160.20,501.80Z" fill="#0a0a0a" fill-opacity="0.95" filter="url(#bl09)"/>
<path d="M190.00,501.50 C190.72,499.50 193.84,499.50 202.00,499.50 S213.28,499.50 214.00,501.50 C213.28,503.50 210.16,503.50 202.00,503.50 S190.72,503.50 190.00,501.50Z" fill="#0a0a0a" fill-opacity="0.92" filter="url(#bl09)"/>
<path d="M190.96,501.50 C191.62,500.10 194.49,500.10 202.00,500.10 S212.38,500.10 213.04,501.50 C212.38,502.90 209.51,502.90 202.00,502.90 S191.62,502.90 190.96,501.50Z" fill="#0a0a0a" fill-opacity="0.95" filter="url(#bl09)"/>
<path d="M215.50,501.30 C216.28,499.10 219.66,499.10 228.50,499.10 S240.72,499.10 241.50,501.30 C240.72,503.50 237.34,503.50 228.50,503.50 S216.28,503.50 215.50,501.30Z" fill="#0a0a0a" fill-opacity="0.95" filter="url(#bl09)"/>
<path d="M216.54,501.30 C217.26,499.76 220.37,499.76 228.50,499.76 S239.74,499.76 240.46,501.30 C239.74,502.84 236.63,502.84 228.50,502.84 S217.26,502.84 216.54,501.30Z" fill="#0a0a0a" fill-opacity="0.95" filter="url(#bl09)"/>
</g>
<rect x="72.10" y="491.20" width="171.40" height="21.80" fill="none" stroke="#141414" stroke-width="1.5"/>
<line x1="158.90" y1="491.20" x2="158.90" y2="513.00" stroke="#141414" stroke-width="1.4"/>
<line x1="79.30" y1="400.30" x2="158.90" y2="400.30" stroke="#111" stroke-width="1.4"/>
<text x="120.50" y="397.60" font-size="15" text-anchor="middle">Control</text>
<line x1="165.20" y1="400.30" x2="240.00" y2="400.30" stroke="#111" stroke-width="1.4"/>
<text x="203.20" y="397.60" font-size="15" text-anchor="middle">Ethanol</text>
<text x="93.40" y="414.50" font-size="12.8" text-anchor="middle">0</text>
<text x="118.60" y="414.50" font-size="12.8" text-anchor="middle">3</text>
<text x="143.70" y="414.50" font-size="12.8" text-anchor="middle">6</text>
<text x="175.00" y="414.50" font-size="12.8" text-anchor="middle">0</text>
<text x="200.10" y="414.50" font-size="12.8" text-anchor="middle">3</text>
<text x="228.60" y="414.50" font-size="12.8" text-anchor="middle">6</text>
<text x="65.90" y="426.60" font-size="10.0" text-anchor="end">50 kDa</text>
<line x1="66.80" y1="423.50" x2="72.10" y2="423.50" stroke="#111" stroke-width="1.4"/>
<text x="65.90" y="449.10" font-size="10.0" text-anchor="end">50 kDa</text>
<line x1="66.80" y1="446.00" x2="72.10" y2="446.00" stroke="#111" stroke-width="1.4"/>
<text x="65.90" y="477.60" font-size="10.0" text-anchor="end">50 kDa</text>
<line x1="66.80" y1="474.50" x2="72.10" y2="474.50" stroke="#111" stroke-width="1.4"/>
<text x="65.90" y="496.60" font-size="10.0" text-anchor="end">50 kDa</text>
<line x1="66.80" y1="493.50" x2="72.10" y2="493.50" stroke="#111" stroke-width="1.4"/>
<line x1="28.50" y1="417.80" x2="28.50" y2="458.00" stroke="#111" stroke-width="1.3"/>
<line x1="28.50" y1="466.50" x2="28.50" y2="506.40" stroke="#111" stroke-width="1.3"/>
<text x="22.90" y="438.50" font-size="14.2" text-anchor="middle" transform="rotate(-90 22.90 438.50)">WT</text>
<text x="22.90" y="486.50" font-size="14.2" text-anchor="middle" transform="rotate(-90 22.90 486.50)">S114A</text>
<text x="247.80" y="415.90" font-size="12.6">CHX (h)</text>
<text x="247.40" y="434.30" font-size="14.2">His-Tag</text>
<text x="247.40" y="458.40" font-size="14.2">β-Actin</text>
<text x="247.40" y="483.60" font-size="14.2">His-Tag</text>
<text x="247.40" y="506.90" font-size="14.2">β-Actin</text>
<line x1="390.40" y1="413.20" x2="588.83" y2="444.65" stroke="#3b56a5" stroke-width="0.7" stroke-dasharray="0.8 0.6"/>
<line x1="390.40" y1="413.20" x2="588.83" y2="488.10" stroke="#3b56a5" stroke-width="0.7" stroke-dasharray="0.8 0.6"/>
<line x1="390.40" y1="413.20" x2="588.83" y2="441.19" stroke="#f4503a" stroke-width="0.7" stroke-dasharray="0.8 0.6"/>
<line x1="390.40" y1="413.20" x2="588.83" y2="442.61" stroke="#f4503a" stroke-width="0.7" stroke-dasharray="0.8 0.6"/>
<line x1="490.45" y1="426.64" x2="490.45" y2="430.22" stroke="#f4503a" stroke-width="1.2"/>
<line x1="486.85" y1="426.64" x2="494.05" y2="426.64" stroke="#f4503a" stroke-width="1.2"/>
<line x1="486.85" y1="430.22" x2="494.05" y2="430.22" stroke="#f4503a" stroke-width="1.2"/>
<line x1="590.50" y1="436.50" x2="590.50" y2="449.04" stroke="#f4503a" stroke-width="1.2"/>
<line x1="586.90" y1="436.50" x2="594.10" y2="436.50" stroke="#f4503a" stroke-width="1.2"/>
<line x1="586.90" y1="449.04" x2="594.10" y2="449.04" stroke="#f4503a" stroke-width="1.2"/>
<line x1="590.50" y1="434.26" x2="590.50" y2="454.86" stroke="#f4503a" stroke-width="1.2"/>
<line x1="586.90" y1="434.26" x2="594.10" y2="434.26" stroke="#f4503a" stroke-width="1.2"/>
<line x1="586.90" y1="454.86" x2="594.10" y2="454.86" stroke="#f4503a" stroke-width="1.2"/>
<path d="M490.45,425.01 L493.09,429.61 L487.81,429.61Z" fill="#f4503a"/>
<path d="M490.45,426.70 L493.32,421.70 L487.57,421.70Z" fill="#f4503a"/>
<line x1="490.45" y1="426.64" x2="490.45" y2="439.18" stroke="#3b56a5" stroke-width="1.2"/>
<line x1="486.85" y1="426.64" x2="494.05" y2="426.64" stroke="#3b56a5" stroke-width="1.2"/>
<line x1="486.85" y1="439.18" x2="494.05" y2="439.18" stroke="#3b56a5" stroke-width="1.2"/>
<line x1="590.50" y1="439.63" x2="590.50" y2="445.01" stroke="#3b56a5" stroke-width="1.2"/>
<line x1="586.90" y1="439.63" x2="594.10" y2="439.63" stroke="#3b56a5" stroke-width="1.2"/>
<line x1="586.90" y1="445.01" x2="594.10" y2="445.01" stroke="#3b56a5" stroke-width="1.2"/>
<line x1="490.45" y1="458.45" x2="490.45" y2="462.03" stroke="#3b56a5" stroke-width="1.2"/>
<line x1="487.85" y1="458.45" x2="493.05" y2="458.45" stroke="#3b56a5" stroke-width="1.2"/>
<line x1="487.85" y1="462.03" x2="493.05" y2="462.03" stroke="#3b56a5" stroke-width="1.2"/>
<line x1="590.50" y1="478.34" x2="590.50" y2="487.30" stroke="#3b56a5" stroke-width="1.2"/>
<line x1="586.90" y1="478.34" x2="594.10" y2="478.34" stroke="#3b56a5" stroke-width="1.2"/>
<line x1="586.90" y1="487.30" x2="594.10" y2="487.30" stroke="#3b56a5" stroke-width="1.2"/>
<circle cx="490.45" cy="432.91" r="2.80" fill="#3b56a5"/>
<circle cx="590.50" cy="442.32" r="2.80" fill="#3b56a5"/>
<rect x="487.65" y="457.44" width="5.60" height="5.60" fill="#3b56a5"/>
<rect x="587.70" y="480.02" width="5.60" height="5.60" fill="#3b56a5"/>
<rect x="587.90" y="439.72" width="5.20" height="5.20" fill="#3b56a5"/>
<rect x="387.60" y="410.40" width="5.60" height="5.60" fill="#3b56a5"/>
<circle cx="390.40" cy="413.20" r="3.00" fill="#3b56a5"/>
<line x1="390.40" y1="381.80" x2="390.40" y2="503.60" stroke="#111" stroke-width="1.6"/>
<line x1="389.60" y1="502.80" x2="591.30" y2="502.80" stroke="#111" stroke-width="1.6"/>
<line x1="386.40" y1="502.80" x2="390.40" y2="502.80" stroke="#111" stroke-width="1.3"/>
<text x="385.80" y="506.70" font-size="11" font-weight="bold" text-anchor="end">0</text>
<line x1="386.40" y1="458.00" x2="390.40" y2="458.00" stroke="#111" stroke-width="1.3"/>
<text x="385.80" y="461.90" font-size="11" font-weight="bold" text-anchor="end">50</text>
<line x1="386.40" y1="413.20" x2="390.40" y2="413.20" stroke="#111" stroke-width="1.3"/>
<text x="385.80" y="417.10" font-size="11" font-weight="bold" text-anchor="end">100</text>
<line x1="390.40" y1="502.80" x2="390.40" y2="506.80" stroke="#111" stroke-width="1.3"/>
<text x="390.40" y="518.00" font-size="11" font-weight="bold" text-anchor="middle">0</text>
<line x1="457.10" y1="502.80" x2="457.10" y2="506.80" stroke="#111" stroke-width="1.3"/>
<text x="457.10" y="518.00" font-size="11" font-weight="bold" text-anchor="middle">2</text>
<line x1="523.80" y1="502.80" x2="523.80" y2="506.80" stroke="#111" stroke-width="1.3"/>
<text x="523.80" y="518.00" font-size="11" font-weight="bold" text-anchor="middle">4</text>
<line x1="590.50" y1="502.80" x2="590.50" y2="506.80" stroke="#111" stroke-width="1.3"/>
<text x="590.50" y="518.00" font-size="11" font-weight="bold" text-anchor="middle">6</text>
<text x="343.6" y="435" font-size="12.6" text-anchor="middle" transform="rotate(-90 343.6 435)">% of MATα1</text>
<text x="360.60" y="435.00" font-size="12.6" text-anchor="middle" transform="rotate(-90 360.60 435.00)">(relative to 0h)</text>
<text x="490.00" y="534.50" font-size="12.6" text-anchor="middle">Hours (CHX)</text>
<circle cx="599.10" cy="387.80" r="2.70" fill="#3b56a5"/>
<text x="613.20" y="391.40" font-size="10.4">WT Control</text>
<rect x="596.40" y="394.90" width="5.40" height="5.40" fill="#3b56a5"/>
<text x="613.20" y="401.20" font-size="10.4">WT Ethanol</text>
<path d="M599.10,405.27 L601.75,409.87 L596.46,409.87Z" fill="#f4503a"/>
<text x="613.20" y="411.40" font-size="10.4">S114A Control</text>
<path d="M599.10,420.63 L601.75,416.03 L596.46,416.03Z" fill="#f4503a"/>
<text x="613.20" y="421.70" font-size="10.4">S114A Ethanol</text>
</g>
<g id="panel-f">
<defs>
<filter id="bf15" x="-30%" y="-100%" width="160%" height="300%"><feGaussianBlur stdDeviation="1.5"/></filter>
<filter id="bf25" x="-40%" y="-100%" width="180%" height="300%"><feGaussianBlur stdDeviation="2.6"/></filter>
</defs>
<text x="27.20" y="578.00" font-size="22.5">f</text>
<text x="118.00" y="586.70" font-size="14.5" textLength="83.20" lengthAdjust="spacingAndGlyphs">Mitochondria</text>
<line x1="118.50" y1="589.50" x2="201.30" y2="589.50" stroke="#111" stroke-width="1.1"/>
<clipPath id="fc0"><rect x="96.2" y="632.1" width="125.89999999999999" height="31.299999999999955"/></clipPath>
<rect x="96.20" y="632.10" width="125.90" height="31.30" fill="#cecece" stroke="none" stroke-width="1"/>
<g clip-path="url(#fc0)">
<linearGradient id="smg" x1="0" y1="0" x2="0" y2="1"><stop offset="0" stop-color="#000" stop-opacity="0.3"/><stop offset="1" stop-color="#000" stop-opacity="1"/></linearGradient>
<rect x="102.5" y="635" width="24" height="18" rx="5" fill="url(#smg)" fill-opacity="0.7" filter="url(#bf25)"/>
<rect x="133.8" y="635" width="21" height="18" rx="5" fill="url(#smg)" fill-opacity="0.16" filter="url(#bf25)"/>
<rect x="163.5" y="635" width="23" height="18" rx="5" fill="url(#smg)" fill-opacity="0.85" filter="url(#bf25)"/>
<rect x="192.5" y="635" width="23" height="18" rx="5" fill="url(#smg)" fill-opacity="0.7" filter="url(#bf25)"/>
<path d="M101.75,652.60 C102.52,647.35 105.83,647.35 114.50,647.35 S126.48,647.35 127.25,652.60 C126.48,657.85 123.17,657.85 114.50,657.85 S102.52,657.85 101.75,652.60Z" fill="#0a0a0a" fill-opacity="1" filter="url(#bf15)"/>
<path d="M132.80,650.60 C133.49,647.45 136.48,647.45 144.30,647.45 S155.11,647.45 155.80,650.60 C155.11,653.75 152.12,653.75 144.30,653.75 S133.49,653.75 132.80,650.60Z" fill="#0a0a0a" fill-opacity="0.38" filter="url(#bf15)"/>
<path d="M163.00,649.60 C163.72,644.56 166.84,644.56 175.00,644.56 S186.28,644.56 187.00,649.60 C186.28,654.64 183.16,654.64 175.00,654.64 S163.72,654.64 163.00,649.60Z" fill="#0a0a0a" fill-opacity="0.95" filter="url(#bf15)"/>
<path d="M191.75,652.00 C192.49,646.43 195.67,646.43 204.00,646.43 S215.51,646.43 216.25,652.00 C215.51,657.57 212.33,657.57 204.00,657.57 S192.49,657.57 191.75,652.00Z" fill="#0a0a0a" fill-opacity="1" filter="url(#bf15)"/>
<path d="M104.00,653.20 C104.63,650.26 107.36,650.26 114.50,650.26 S124.37,650.26 125.00,653.20 C124.37,656.14 121.64,656.14 114.50,656.14 S104.63,656.14 104.00,653.20Z" fill="#0a0a0a" fill-opacity="0.9" filter="url(#bf15)"/>
<path d="M194.00,652.80 C194.60,649.65 197.20,649.65 204.00,649.65 S213.40,649.65 214.00,652.80 C213.40,655.95 210.80,655.95 204.00,655.95 S194.60,655.95 194.00,652.80Z" fill="#0a0a0a" fill-opacity="0.9" filter="url(#bf15)"/>
<path d="M165.50,650.20 C166.07,647.79 168.54,647.79 175.00,647.79 S183.93,647.79 184.50,650.20 C183.93,652.62 181.46,652.62 175.00,652.62 S166.07,652.62 165.50,650.20Z" fill="#0a0a0a" fill-opacity="0.6" filter="url(#bf15)"/>
<path d="M165.00,659.50 C165.60,657.40 168.20,657.40 175.00,657.40 S184.40,657.40 185.00,659.50 C184.40,661.60 181.80,661.60 175.00,661.60 S165.60,661.60 165.00,659.50Z" fill="#0a0a0a" fill-opacity="0.12" filter="url(#bf15)"/>
</g>
<rect x="96.20" y="632.10" width="125.90" height="31.30" fill="none" stroke="#141414" stroke-width="1.5"/>
<clipPath id="fc1"><rect x="96.2" y="666.7" width="125.89999999999999" height="30.0"/></clipPath>
<rect x="96.20" y="666.70" width="125.90" height="30.00" fill="#c6c6c6" stroke="none" stroke-width="1"/>
<g clip-path="url(#fc1)">
<rect x="98" y="673" width="120" height="16" rx="6" fill="#000" fill-opacity="0.2" filter="url(#bf25)"/>
<path d="M102.85,680.40 C103.73,674.62 107.57,674.62 117.60,674.62 S131.47,674.62 132.35,680.40 C131.47,686.17 127.63,686.17 117.60,686.17 S103.73,686.17 102.85,680.40Z" fill="#0a0a0a" fill-opacity="1" filter="url(#bf15)"/>
<path d="M133.55,681.80 C134.31,677.07 137.63,677.07 146.30,677.07 S158.29,677.07 159.05,681.80 C158.29,686.52 154.97,686.52 146.30,686.52 S134.31,686.52 133.55,681.80Z" fill="#0a0a0a" fill-opacity="0.95" filter="url(#bf15)"/>
<path d="M160.80,682.40 C161.58,676.10 164.96,676.10 173.80,676.10 S186.02,676.10 186.80,682.40 C186.02,688.70 182.64,688.70 173.80,688.70 S161.58,688.70 160.80,682.40Z" fill="#0a0a0a" fill-opacity="1" filter="url(#bf15)"/>
<path d="M188.50,681.60 C189.22,676.67 192.34,676.67 200.50,676.67 S211.78,676.67 212.50,681.60 C211.78,686.53 208.66,686.53 200.50,686.53 S189.22,686.53 188.50,681.60Z" fill="#0a0a0a" fill-opacity="1" filter="url(#bf15)" transform="rotate(3 200.5 681.6)"/>
<path d="M105.10,680.60 C105.85,677.24 109.10,677.24 117.60,677.24 S129.35,677.24 130.10,680.60 C129.35,683.96 126.10,683.96 117.60,683.96 S105.85,683.96 105.10,680.60Z" fill="#0a0a0a" fill-opacity="0.9" filter="url(#bf15)"/>
<path d="M162.80,682.80 C163.46,678.91 166.32,678.91 173.80,678.91 S184.14,678.91 184.80,682.80 C184.14,686.68 181.28,686.68 173.80,686.68 S163.46,686.68 162.80,682.80Z" fill="#0a0a0a" fill-opacity="0.9" filter="url(#bf15)"/>
<path d="M190.00,681.40 C190.54,678.56 192.88,678.56 199.00,678.56 S207.46,678.56 208.00,681.40 C207.46,684.24 205.12,684.24 199.00,684.24 S190.54,684.24 190.00,681.40Z" fill="#0a0a0a" fill-opacity="0.8" filter="url(#bf15)" transform="rotate(3 199.0 681.4)"/>
<path d="M136.30,681.80 C136.90,679.38 139.50,679.38 146.30,679.38 S155.70,679.38 156.30,681.80 C155.70,684.21 153.10,684.21 146.30,684.21 S136.90,684.21 136.30,681.80Z" fill="#0a0a0a" fill-opacity="0.6" filter="url(#bf15)"/>
</g>
<rect x="96.20" y="666.70" width="125.90" height="30.00" fill="none" stroke="#141414" stroke-width="1.5"/>
<line x1="105.80" y1="617.40" x2="155.60" y2="617.40" stroke="#111" stroke-width="1.4"/>
<line x1="164.10" y1="617.40" x2="214.00" y2="617.40" stroke="#111" stroke-width="1.4"/>
<text x="130.60" y="614.10" font-size="14.2" text-anchor="middle">WT</text>
<text x="189.90" y="614.10" font-size="14.2" text-anchor="middle">S114A</text>
<text x="118.50" y="629.00" font-size="11" text-anchor="middle">-</text>
<text x="145.40" y="628.30" font-size="11" text-anchor="middle">+</text>
<text x="176.80" y="629.00" font-size="11" text-anchor="middle">-</text>
<text x="203.90" y="628.30" font-size="11" text-anchor="middle">+</text>
<text x="223.40" y="631.20" font-size="12.6">Ethanol</text>
<text x="227.90" y="651.80" font-size="14.4">His-Tag</text>
<text x="228.30" y="687.90" font-size="14.4">TOM20</text>
<text x="80.40" y="643.20" font-size="9.9" text-anchor="end">50 kDa</text>
<line x1="87.90" y1="640.00" x2="96.20" y2="640.00" stroke="#111" stroke-width="1.3"/>
<text x="80.40" y="691.80" font-size="9.9" text-anchor="end">15 kDa</text>
<line x1="87.90" y1="688.60" x2="96.20" y2="688.60" stroke="#111" stroke-width="1.3"/>
</g>
<g id="panel-g">
<text x="27.60" y="745.90" font-size="22.5">g</text>
<rect x="129.30" y="791.10" width="15.60" height="84.10" fill="#3b56a5" stroke="#111" stroke-width="1.4"/>
<circle cx="132.80" cy="789.84" r="2.50" fill="#111"/>
<circle cx="137.10" cy="792.78" r="2.50" fill="#111"/>
<circle cx="141.50" cy="790.68" r="2.50" fill="#111"/>
<rect x="148.30" y="849.97" width="15.60" height="25.23" fill="#3b56a5" stroke="#111" stroke-width="1.4"/>
<line x1="156.10" y1="841.22" x2="156.10" y2="858.72" stroke="#111" stroke-width="1.3"/>
<line x1="151.70" y1="841.22" x2="160.50" y2="841.22" stroke="#111" stroke-width="1.3"/>
<line x1="151.70" y1="858.72" x2="160.50" y2="858.72" stroke="#111" stroke-width="1.3"/>
<circle cx="156.10" cy="837.36" r="2.50" fill="#111"/>
<circle cx="156.10" cy="849.97" r="2.50" fill="#111"/>
<circle cx="156.10" cy="867.46" r="2.50" fill="#111"/>
<rect x="175.20" y="790.68" width="15.60" height="84.52" fill="#f44336" stroke="#111" stroke-width="1.4"/>
<line x1="183.00" y1="772.85" x2="183.00" y2="808.51" stroke="#111" stroke-width="1.3"/>
<line x1="178.60" y1="772.85" x2="187.40" y2="772.85" stroke="#111" stroke-width="1.3"/>
<line x1="178.60" y1="808.51" x2="187.40" y2="808.51" stroke="#111" stroke-width="1.3"/>
<rect x="180.60" y="753.88" width="4.80" height="4.80" fill="#111"/>
<rect x="180.60" y="797.19" width="4.80" height="4.80" fill="#111"/>
<rect x="180.60" y="814.10" width="4.80" height="4.80" fill="#111"/>
<rect x="194.80" y="787.40" width="15.60" height="87.80" fill="#f44336" stroke="#111" stroke-width="1.4"/>
<line x1="202.60" y1="774.36" x2="202.60" y2="800.44" stroke="#111" stroke-width="1.3"/>
<line x1="198.20" y1="774.36" x2="207.00" y2="774.36" stroke="#111" stroke-width="1.3"/>
<line x1="198.20" y1="800.44" x2="207.00" y2="800.44" stroke="#111" stroke-width="1.3"/>
<rect x="200.20" y="765.32" width="4.80" height="4.80" fill="#111"/>
<rect x="200.20" y="780.12" width="4.80" height="4.80" fill="#111"/>
<rect x="200.20" y="809.73" width="4.80" height="4.80" fill="#111"/>
<line x1="122.90" y1="748.20" x2="122.90" y2="876.00" stroke="#111" stroke-width="1.7"/>
<line x1="122.10" y1="875.20" x2="215.70" y2="875.20" stroke="#111" stroke-width="1.7"/>
<line x1="118.70" y1="875.20" x2="122.90" y2="875.20" stroke="#111" stroke-width="1.3"/>
<text x="118.10" y="879.10" font-size="11.3" font-weight="bold" text-anchor="end">0</text>
<line x1="118.70" y1="833.15" x2="122.90" y2="833.15" stroke="#111" stroke-width="1.3"/>
<text x="118.10" y="837.05" font-size="11.3" font-weight="bold" text-anchor="end">50</text>
<line x1="118.70" y1="791.10" x2="122.90" y2="791.10" stroke="#111" stroke-width="1.3"/>
<text x="118.10" y="795.00" font-size="11.3" font-weight="bold" text-anchor="end">100</text>
<line x1="118.70" y1="749.05" x2="122.90" y2="749.05" stroke="#111" stroke-width="1.3"/>
<text x="118.10" y="752.95" font-size="11.3" font-weight="bold" text-anchor="end">150</text>
<line x1="137.10" y1="875.20" x2="137.10" y2="878.80" stroke="#111" stroke-width="1.2"/>
<text x="140.70" y="889.40" font-size="12.3" text-anchor="end" transform="rotate(-45 140.70 889.40)">Control</text>
<line x1="156.10" y1="875.20" x2="156.10" y2="878.80" stroke="#111" stroke-width="1.2"/>
<text x="159.70" y="889.40" font-size="12.3" text-anchor="end" transform="rotate(-45 159.70 889.40)">Ethanol</text>
<line x1="183.00" y1="875.20" x2="183.00" y2="878.80" stroke="#111" stroke-width="1.2"/>
<text x="186.60" y="889.40" font-size="12.3" text-anchor="end" transform="rotate(-45 186.60 889.40)">Control</text>
<line x1="202.60" y1="875.20" x2="202.60" y2="878.80" stroke="#111" stroke-width="1.2"/>
<text x="206.20" y="889.40" font-size="12.3" text-anchor="end" transform="rotate(-45 206.20 889.40)">Ethanol</text>
<text x="78.30" y="811.50" font-size="12.1" text-anchor="middle" transform="rotate(-90 78.30 811.50)">Densitometric ratio</text>
<text x="93.40" y="811.50" font-size="12.3" text-anchor="middle" transform="rotate(-90 93.40 811.50)">(MATα1/TOM20)</text>
<path d="M135.0,758.1999999999999 V755.8 H156.5 V758.1999999999999" fill="none" stroke="#111" stroke-width="1.2"/>
<text x="145.75" y="758.00" font-size="12" text-anchor="middle">*</text>
<path d="M154.0,745.1 V742.7 H201.5 V745.1" fill="none" stroke="#111" stroke-width="1.2"/>
<text x="177.75" y="744.90" font-size="12" text-anchor="middle">*</text>
<rect x="229.30" y="750.80" width="15.00" height="8.40" fill="#3b56a5" stroke="#111" stroke-width="1.4" rx="0.6"/>
<text x="250.70" y="759.00" font-size="10.8">WT</text>
<rect x="229.30" y="762.10" width="15.00" height="8.40" fill="#f44336" stroke="#111" stroke-width="1.4" rx="0.6"/>
<text x="250.70" y="770.30" font-size="10.8">S114A</text>
</g>
<g id="panel-h">
<text x="358.60" y="560.40" font-size="22.5">h</text>
<defs>
<filter id="hb06" filterUnits="userSpaceOnUse" x="-30" y="-30" width="130" height="145" color-interpolation-filters="sRGB"><feGaussianBlur stdDeviation="0.6"/></filter>
<filter id="hb1" filterUnits="userSpaceOnUse" x="-30" y="-30" width="130" height="145" color-interpolation-filters="sRGB"><feGaussianBlur stdDeviation="1"/></filter>
<filter id="hb15" filterUnits="userSpaceOnUse" x="-30" y="-30" width="130" height="145" color-interpolation-filters="sRGB"><feGaussianBlur stdDeviation="1.5"/></filter>
<filter id="hb2" filterUnits="userSpaceOnUse" x="-30" y="-30" width="130" height="145" color-interpolation-filters="sRGB"><feGaussianBlur stdDeviation="2"/></filter>
<filter id="hb3" filterUnits="userSpaceOnUse" x="-30" y="-30" width="130" height="145" color-interpolation-filters="sRGB"><feGaussianBlur stdDeviation="3"/></filter>
<filter id="hb4" filterUnits="userSpaceOnUse" x="-30" y="-30" width="130" height="145" color-interpolation-filters="sRGB"><feGaussianBlur stdDeviation="4"/></filter>
<filter id="hb6" filterUnits="userSpaceOnUse" x="-30" y="-30" width="130" height="145" color-interpolation-filters="sRGB"><feGaussianBlur stdDeviation="6"/></filter>
<filter id="grR" filterUnits="userSpaceOnUse" x="-8" y="-8" width="83.9" height="96.8" color-interpolation-filters="sRGB"><feTurbulence type="fractalNoise" baseFrequency="0.16" numOctaves="2" seed="25" result="dn"/><feDisplacementMap in="SourceGraphic" in2="dn" scale="3.0" xChannelSelector="R" yChannelSelector="G" result="sd"/><feTurbulence type="fractalNoise" baseFrequency="0.2" numOctaves="2" seed="5" result="n"/><feColorMatrix in="n" type="matrix" values="1.6 0 0 0 -0.3  1.6 0 0 0 -0.3  1.6 0 0 0 -0.3  0 0 0 0 1" result="g"/><feComposite in="sd" in2="g" operator="arithmetic" k1="0.3" k2="0.85" k3="0" k4="0" result="c"/><feGaussianBlur in="c" stdDeviation="0.5"/></filter>
<filter id="grG" filterUnits="userSpaceOnUse" x="-8" y="-8" width="83.9" height="96.8" color-interpolation-filters="sRGB"><feTurbulence type="fractalNoise" baseFrequency="0.2" numOctaves="2" seed="31" result="dn"/><feDisplacementMap in="SourceGraphic" in2="dn" scale="5.0" xChannelSelector="R" yChannelSelector="G" result="sd"/><feTurbulence type="fractalNoise" baseFrequency="0.3" numOctaves="2" seed="11" result="n"/><feColorMatrix in="n" type="matrix" values="1.5 0 0 0 -0.25  1.5 0 0 0 -0.25  1.5 0 0 0 -0.25  0 0 0 0 1" result="g"/><feComposite in="sd" in2="g" operator="arithmetic" k1="0.9" k2="0.55" k3="0" k4="0" result="c"/><feGaussianBlur in="c" stdDeviation="0.6"/></filter>
<filter id="grB" filterUnits="userSpaceOnUse" x="-8" y="-8" width="83.9" height="96.8" color-interpolation-filters="sRGB"><feTurbulence type="fractalNoise" baseFrequency="0.12" numOctaves="2" seed="27" result="dn"/><feDisplacementMap in="SourceGraphic" in2="dn" scale="1.5" xChannelSelector="R" yChannelSelector="G" result="sd"/><feTurbulence type="fractalNoise" baseFrequency="0.4" numOctaves="2" seed="7" result="n"/><feColorMatrix in="n" type="matrix" values="1.5 0 0 0 -0.25  1.5 0 0 0 -0.25  1.5 0 0 0 -0.25  0 0 0 0 1" result="g"/><feComposite in="sd" in2="g" operator="arithmetic" k1="0.4" k2="0.8" k3="0" k4="0" result="c"/><feGaussianBlur in="c" stdDeviation="0.5"/></filter>
<clipPath id="hcell"><rect x="0" y="0" width="67.9" height="80.8"/></clipPath>
<g id="R1" filter="url(#grR)"><rect x="-10" y="-10" width="87.9" height="100.8" fill="#400000"/><path d="M-1.8,-1.5 C3.5,-6.1 25.5,-4.8 29.7,-1.5 C33.9,1.8 26.6,13.6 23.4,18.5 C20.3,23.4 15.0,26.7 10.8,27.9 C6.6,29.2 0.3,30.7 -1.8,25.8 C-3.9,20.9 -7.1,3.1 -1.8,-1.5Z" fill="#8c0000" fill-opacity="1" filter="url(#hb3)"/><path d="M-1.8,24.8 C0.1,21.6 7.3,26.7 9.8,30.0 C12.2,33.4 14.8,41.6 12.9,44.7 C11.0,47.9 0.7,52.3 -1.8,49.0 C-4.3,45.6 -3.7,27.9 -1.8,24.8Z" fill="#780000" fill-opacity="1" filter="url(#hb3)"/><path d="M57.1,33.2 C61.1,30.7 69.3,34.4 71.8,38.4 C74.2,42.5 74.2,53.9 71.8,57.4 C69.3,60.9 61.1,60.2 57.1,59.5 C53.0,58.8 47.6,57.5 47.6,53.2 C47.6,48.8 53.0,35.6 57.1,33.2Z" fill="#a80000" fill-opacity="1" filter="url(#hb3)"/><path d="M-1.8,57.4 C1.4,52.8 12.6,54.9 17.1,57.4 C21.7,59.8 22.9,67.5 25.5,72.1 C28.2,76.6 37.4,82.6 32.9,84.7 C28.3,86.8 4.0,89.2 -1.8,84.7 C-7.6,80.1 -5.0,61.9 -1.8,57.4Z" fill="#200000" fill-opacity="0.8" filter="url(#hb4)"/><path d="M11.9,30.0 C14.0,27.1 21.0,24.3 24.5,23.2 C28.0,22.1 29.7,22.8 32.9,23.7 C36.0,24.7 40.1,26.7 43.4,29.0 C46.7,31.3 49.9,34.8 52.9,37.4 C55.8,40.0 59.2,42.5 61.3,44.7 C63.4,47.0 66.2,49.0 65.5,51.1 C64.8,53.2 60.0,55.4 57.1,57.4 C54.1,59.3 50.4,61.2 47.6,62.6 C44.8,64.0 42.7,64.5 40.2,65.8 C37.8,67.0 35.3,70.0 32.9,70.0 C30.4,70.0 27.8,67.9 25.5,65.8 C23.3,63.7 21.0,60.2 19.2,57.4 C17.5,54.6 16.2,51.8 15.0,49.0 C13.8,46.1 12.4,43.7 11.9,40.5 C11.3,37.4 9.8,32.9 11.9,30.0Z" fill="#e80000" fill-opacity="1" filter="url(#hb15)"/><path d="M17.1,32.1 C18.7,29.3 22.7,27.6 25.5,26.9 C28.3,26.2 31.1,26.9 33.9,27.9 C36.7,29.0 41.6,30.7 42.3,33.2 C43.0,35.6 40.2,39.3 38.1,42.6 C36.0,46.0 30.6,49.7 29.7,53.2 C28.9,56.7 33.4,62.3 32.9,63.7 C32.4,65.1 28.7,63.3 26.6,61.6 C24.5,59.8 22.0,56.1 20.3,53.2 C18.5,50.2 16.6,47.2 16.1,43.7 C15.5,40.2 15.5,34.9 17.1,32.1Z" fill="#ff1010" fill-opacity="0.7" filter="url(#hb2)"/><path d="M29.7,-0.4 C28.9,1.5 25.5,7.3 24.5,11.1 C23.4,15.0 23.6,20.7 23.4,22.7" fill="none" stroke="#d00000" stroke-width="1.5" stroke-opacity="0.8" stroke-linecap="round" stroke-linejoin="round" filter="url(#hb1)"/><path d="M-0.7,19.5 C0.3,20.2 3.5,22.0 5.6,23.7 C7.7,25.5 10.8,29.0 11.9,30.0" fill="none" stroke="#d00000" stroke-width="1.3" stroke-opacity="0.7" stroke-linecap="round" stroke-linejoin="round" filter="url(#hb1)"/><path d="M-0.7,47.9 C0.5,47.4 4.3,45.6 6.6,44.7 C8.9,43.9 11.9,43.0 12.9,42.6" fill="none" stroke="#c00000" stroke-width="1.3" stroke-opacity="0.7" stroke-linecap="round" stroke-linejoin="round" filter="url(#hb1)"/><path d="M7.7,4.8 C9.1,6.0 13.4,9.7 16.1,12.2 C18.7,14.6 22.2,18.3 23.4,19.5" fill="none" stroke="#c00000" stroke-width="1.1" stroke-opacity="0.5" stroke-linecap="round" stroke-linejoin="round" filter="url(#hb1)"/></g>
<g id="G1" filter="url(#grG)"><rect x="-10" y="-10" width="87.9" height="100.8" fill="#000"/><path d="M-1.8,-1.5 C2.9,-3.6 22.9,-3.1 26.6,-1.5 C30.3,0.1 23.3,5.5 20.3,8.0 C17.3,10.4 12.4,12.7 8.7,13.2 C5.0,13.7 -0.0,13.6 -1.8,11.1 C-3.6,8.7 -6.5,0.6 -1.8,-1.5Z" fill="#0f6a0f" fill-opacity="1" filter="url(#hb2)"/><path d="M55.0,0.6 C56.7,-2.0 69.0,-2.6 71.8,0.6 C74.6,3.8 73.5,16.9 71.8,19.5 C70.0,22.1 64.1,19.5 61.3,16.4 C58.5,13.2 53.2,3.2 55.0,0.6Z" fill="#0a500a" fill-opacity="1" filter="url(#hb3)"/><path d="M58.1,76.3 C60.6,74.5 69.5,72.8 71.8,74.2 C74.1,75.6 74.2,82.9 71.8,84.7 C69.3,86.4 59.3,86.1 57.1,84.7 C54.8,83.3 55.7,78.0 58.1,76.3Z" fill="#107010" fill-opacity="1" filter="url(#hb2)"/><path d="M19.2,33.2 C20.7,31.3 24.0,29.7 26.6,29.0 C29.2,28.3 32.2,28.1 35.0,29.0 C37.8,29.9 40.8,32.7 43.4,34.2 C46.0,35.8 48.5,36.9 50.8,38.4 C53.0,40.0 55.3,41.6 57.1,43.7 C58.8,45.8 61.1,48.6 61.3,51.1 C61.4,53.5 59.9,56.5 58.1,58.4 C56.4,60.3 53.4,61.6 50.8,62.6 C48.1,63.7 45.3,64.9 42.3,64.7 C39.4,64.5 35.7,63.0 32.9,61.6 C30.1,60.2 27.6,58.4 25.5,56.3 C23.4,54.2 21.6,51.6 20.3,49.0 C19.0,46.3 17.8,43.2 17.6,40.5 C17.5,37.9 17.7,35.1 19.2,33.2Z" fill="#073807" fill-opacity="1" filter="url(#hb2)"/><path d="M19.2,34.8 C20.4,33.0 23.1,31.6 25.5,30.9 C28.0,30.1 31.3,29.6 33.9,30.2 C36.6,30.9 38.8,33.4 41.3,34.8 C43.7,36.1 46.4,37.0 48.7,38.4 C50.9,39.9 53.2,41.8 55.0,43.7 C56.7,45.6 58.8,47.9 59.2,50.0 C59.5,52.1 58.5,54.6 57.1,56.3 C55.7,58.1 53.2,59.4 50.8,60.5 C48.3,61.7 45.1,63.1 42.3,63.1 C39.5,63.1 36.6,61.8 33.9,60.5 C31.3,59.2 28.7,57.2 26.6,55.3 C24.5,53.3 22.6,51.2 21.3,49.0 C20.0,46.7 19.0,44.0 18.7,41.6 C18.3,39.2 18.1,36.5 19.2,34.8Z" fill="none" stroke="#178417" stroke-width="3.6" stroke-opacity="1" stroke-linecap="round" stroke-linejoin="round" filter="url(#hb15)"/><path d="M20.8,47.9 C20.5,46.8 19.1,43.3 18.9,41.1 C18.7,38.9 18.6,36.4 19.7,34.8 C20.9,33.1 23.4,31.8 25.7,31.1 C28.1,30.4 31.5,29.9 33.9,30.5 C36.4,31.0 38.7,33.4 40.2,34.2 C41.8,35.0 42.9,35.1 43.4,35.3" fill="none" stroke="#3ce02c" stroke-width="3.4" stroke-opacity="0.9" stroke-linecap="round" stroke-linejoin="round" filter="url(#hb15)"/><path d="M26.6,55.3 C27.8,56.1 31.3,59.3 33.9,60.5 C36.6,61.8 39.5,62.9 42.3,62.8 C45.1,62.8 49.4,60.7 50.8,60.3" fill="none" stroke="#38e030" stroke-width="2.5" stroke-opacity="0.8" stroke-linecap="round" stroke-linejoin="round" filter="url(#hb15)"/><ellipse cx="39.7" cy="34.4" rx="4.7" ry="2.3" fill="#78ff58" fill-opacity="0.7" filter="url(#hb1)" transform="rotate(15 39.7 34.4)"/></g>
<g id="B1" filter="url(#grB)"><rect x="-10" y="-10" width="87.9" height="100.8" fill="#000"/><ellipse cx="40.2" cy="44.5" rx="20.5" ry="15.0" fill="#0c0cb0" fill-opacity="1" filter="url(#hb2)" transform="rotate(18 40.2 44.5)"/><ellipse cx="39.8" cy="44.3" rx="16.8" ry="11.8" fill="#1a1af0" fill-opacity="0.9" filter="url(#hb3)" transform="rotate(18 39.8 44.3)"/></g>
<g id="R2" filter="url(#grR)"><rect x="-10" y="-10" width="87.9" height="100.8" fill="#330000"/><path d="M-1.8,56.9 C1.2,52.7 11.9,54.8 16.1,55.9 C20.3,56.9 22.7,60.1 23.4,63.2 C24.1,66.4 24.5,71.8 20.3,74.8 C16.1,77.8 1.9,84.1 -1.8,81.1 C-5.5,78.1 -4.8,61.1 -1.8,56.9Z" fill="#6a0000" fill-opacity="1" filter="url(#hb3)"/><path d="M19.2,66.4 C26.9,63.2 56.7,64.4 65.5,65.3 C74.2,66.2 70.7,68.5 71.8,71.6 C72.8,74.8 80.5,82.1 71.8,84.2 C63.0,86.3 28.0,87.2 19.2,84.2 C10.5,81.3 11.5,69.5 19.2,66.4Z" fill="#420000" fill-opacity="1" filter="url(#hb3)"/><path d="M9.8,40.1 C10.8,37.1 13.8,35.0 17.1,32.7 C20.4,30.5 25.0,28.0 29.7,26.4 C34.5,24.9 40.9,24.0 45.5,23.3 C50.1,22.6 54.1,21.2 57.1,22.2 C60.0,23.3 61.9,26.3 63.4,29.6 C64.9,32.9 65.6,37.6 66.0,42.2 C66.3,46.8 66.3,53.4 65.5,56.9 C64.7,60.4 64.6,62.3 61.3,63.2 C57.9,64.1 50.2,61.8 45.5,62.2 C40.8,62.5 36.7,65.1 32.9,65.3 C29.0,65.5 25.2,64.6 22.4,63.2 C19.6,61.8 18.0,59.0 16.1,56.9 C14.1,54.8 11.9,53.4 10.8,50.6 C9.8,47.8 8.7,43.1 9.8,40.1Z" fill="#8c0000" fill-opacity="1" filter="url(#hb2)"/><path d="M14.0,40.1 C15.5,37.1 20.8,34.5 25.5,32.7 C30.3,31.0 37.1,30.1 42.3,29.6 C47.6,29.1 53.9,27.0 57.1,29.6 C60.2,32.2 61.3,40.6 61.3,45.3 C61.3,50.1 60.6,55.7 57.1,58.0 C53.6,60.2 45.7,58.8 40.2,59.0 C34.8,59.2 28.5,60.4 24.5,59.0 C20.4,57.6 17.8,53.8 16.1,50.6 C14.3,47.5 12.4,43.1 14.0,40.1Z" fill="#a80404" fill-opacity="0.8" filter="url(#hb3)"/><ellipse cx="23.4" cy="42.2" rx="8.4" ry="7.4" fill="#c80a0a" fill-opacity="0.5" filter="url(#hb4)"/><ellipse cx="19.0" cy="19.9" rx="1.2" ry="1.2" fill="#ff3030" fill-opacity="0.9" filter="url(#hb06)"/></g>
<g id="G2" filter="url(#grG)"><rect x="-10" y="-10" width="87.9" height="100.8" fill="#000"/><path d="M-1.8,-2.0 C2.6,-9.3 20.4,-4.6 24.5,-2.0 C28.5,0.7 21.5,9.3 22.4,13.8 C23.3,18.4 30.6,21.3 29.7,25.4 C28.9,29.4 22.4,35.2 17.1,38.0 C11.9,40.8 1.4,48.9 -1.8,42.2 C-5.0,35.5 -6.2,5.4 -1.8,-2.0Z" fill="#062c06" fill-opacity="1" filter="url(#hb3)"/><path d="M50.8,0.2 C53.2,-4.1 68.3,-4.8 71.8,0.2 C75.3,5.1 74.2,25.4 71.8,29.6 C69.3,33.8 60.6,30.3 57.1,25.4 C53.6,20.5 48.3,4.4 50.8,0.2Z" fill="#062a06" fill-opacity="1" filter="url(#hb3)"/><path d="M17.1,29.6 C23.6,23.3 45.5,22.6 52.9,23.3 C60.2,24.0 59.5,28.2 61.3,33.8 C63.0,39.4 64.8,51.7 63.4,56.9 C62.0,62.2 58.5,63.7 52.9,65.3 C47.3,66.9 36.2,67.1 29.7,66.4 C23.3,65.7 16.1,67.2 14.0,61.1 C11.9,55.0 10.6,35.9 17.1,29.6Z" fill="#062a06" fill-opacity="1" filter="url(#hb3)"/><path d="M29.7,66.4 C36.4,62.5 60.6,58.1 67.6,61.1 C74.6,64.1 78.4,80.4 71.8,84.2 C65.1,88.1 34.6,87.2 27.6,84.2 C20.6,81.3 23.1,70.2 29.7,66.4Z" fill="#083a08" fill-opacity="1" filter="url(#hb3)"/><ellipse cx="42.3" cy="44.3" rx="12.4" ry="13.5" fill="#042804" fill-opacity="1" filter="url(#hb2)"/><path d="M29.7,31.7 C31.1,31.1 35.2,28.8 38.1,28.3 C41.1,27.8 44.8,27.8 47.6,28.7 C50.4,29.7 53.4,31.4 55.0,33.8 C56.5,36.2 56.9,40.3 56.9,43.2 C56.9,46.2 56.1,49.2 55.0,51.7 C53.8,54.1 52.2,56.5 49.7,58.0 C47.3,59.4 43.0,60.1 40.2,60.3 C37.4,60.5 34.1,59.4 32.9,59.2" fill="none" stroke="#1fa01f" stroke-width="2.3" stroke-opacity="0.9" stroke-linecap="round" stroke-linejoin="round" filter="url(#hb15)"/><path d="M17.1,42.2 C18.1,39.2 20.4,35.6 22.4,33.8 C24.4,32.0 27.9,30.4 29.2,31.5 C30.5,32.5 29.9,36.9 30.3,40.1 C30.6,43.3 30.8,47.6 31.3,50.6 C31.8,53.6 34.0,56.0 33.4,58.0 C32.8,59.9 29.8,62.0 27.6,62.4 C25.4,62.8 22.2,62.1 20.3,60.3 C18.4,58.5 16.8,54.7 16.3,51.7 C15.8,48.6 16.1,45.2 17.1,42.2Z" fill="#3cdc30" fill-opacity="1" filter="url(#hb15)"/><ellipse cx="25.0" cy="47.5" rx="4.2" ry="9.5" fill="#70ff50" fill-opacity="0.45" filter="url(#hb2)"/><ellipse cx="67.6" cy="53.8" rx="2.9" ry="3.6" fill="#50ff38" fill-opacity="1" filter="url(#hb1)"/><path d="M57.1,60.1 C57.6,60.9 60.0,63.4 60.2,65.3 C60.4,67.2 58.5,70.6 58.1,71.6" fill="none" stroke="#189018" stroke-width="2.3" stroke-opacity="0.8" stroke-linecap="round" stroke-linejoin="round" filter="url(#hb15)"/></g>
<g id="B2" filter="url(#grB)"><rect x="-10" y="-10" width="87.9" height="100.8" fill="#000"/><ellipse cx="40.2" cy="46.9" rx="13.1" ry="14.7" fill="#1515e8" fill-opacity="1" filter="url(#hb15)" transform="rotate(-10 40.2 46.9)"/><ellipse cx="32.9" cy="6.2" rx="13.9" ry="8.0" fill="#0c0c98" fill-opacity="1" filter="url(#hb15)"/><ellipse cx="66.0" cy="67.4" rx="7.6" ry="9.7" fill="#1818ff" fill-opacity="1" filter="url(#hb15)"/><ellipse cx="3.2" cy="76.0" rx="7.6" ry="6.9" fill="#1414e0" fill-opacity="1" filter="url(#hb15)"/><ellipse cx="57.1" cy="81.6" rx="10.0" ry="4.4" fill="#1414e8" fill-opacity="1" filter="url(#hb15)"/><ellipse cx="-0.3" cy="13.8" rx="2.7" ry="10.5" fill="#0a0a90" fill-opacity="1" filter="url(#hb15)"/></g>
<g id="R3" filter="url(#grR)"><rect x="-10" y="-10" width="87.9" height="100.8" fill="#2c0000"/><path d="M-1.8,52.3 C1.7,47.4 14.0,52.3 19.2,54.4 C24.5,56.5 27.3,60.0 29.7,64.9 C32.2,69.8 39.2,80.6 33.9,83.8 C28.7,86.9 4.2,89.0 -1.8,83.8 C-7.8,78.5 -5.3,57.2 -1.8,52.3Z" fill="#400000" fill-opacity="1" filter="url(#hb3)"/><path d="M47.1,-1.3 C49.1,-3.1 52.3,-3.8 53.9,-1.3 C55.5,1.1 55.7,8.3 56.5,13.4 C57.4,18.4 58.9,23.9 59.0,29.1 C59.0,34.4 58.1,40.9 57.1,44.9 C56.0,48.9 54.4,50.3 52.9,53.3 C51.3,56.3 48.9,58.2 47.6,62.8 C46.3,67.3 46.6,77.7 45.0,80.6 C43.3,83.6 39.4,82.6 37.6,80.6 C35.9,78.7 36.1,72.4 34.5,69.1 C32.8,65.7 30.2,63.3 27.6,60.7 C25.1,58.0 22.4,54.8 19.2,53.3 C16.1,51.8 12.2,51.7 8.7,51.4 C5.2,51.2 -0.0,52.5 -1.8,51.7 C-3.6,51.0 -4.1,48.6 -1.8,47.0 C0.5,45.4 7.7,44.6 11.9,42.3 C16.0,39.9 19.2,36.3 22.9,32.8 C26.6,29.3 30.8,25.2 33.9,21.2 C37.1,17.3 39.6,12.9 41.8,9.2 C44.0,5.4 45.1,0.4 47.1,-1.3Z" fill="#b40000" fill-opacity="1" filter="url(#hb2)"/><path d="M43.4,10.2 C45.8,9.5 50.9,12.8 52.9,16.5 C54.8,20.2 55.3,27.0 55.0,32.3 C54.6,37.5 52.7,43.3 50.8,48.1 C48.8,52.8 45.1,56.5 43.4,60.7 C41.6,64.9 41.5,73.3 40.2,73.3 C39.0,73.3 38.1,64.2 36.0,60.7 C33.9,57.2 30.4,54.5 27.6,52.3 C24.8,50.0 18.9,50.3 19.2,47.0 C19.6,43.7 26.6,36.7 29.7,32.3 C32.9,27.9 35.9,24.4 38.1,20.7 C40.4,17.0 40.9,10.9 43.4,10.2Z" fill="#e00808" fill-opacity="0.6" filter="url(#hb3)"/><ellipse cx="60.4" cy="48.9" rx="0.8" ry="0.8" fill="#e02020" fill-opacity="0.9" filter="url(#hb06)"/></g>
<g id="G3" filter="url(#grG)"><rect x="-10" y="-10" width="87.9" height="100.8" fill="#000"/><path d="M-1.8,-0.3 C8.2,-14.3 48.3,-2.6 58.1,-0.3 C67.9,2.0 58.3,9.2 57.1,13.4 C55.8,17.6 52.2,20.2 50.8,24.9 C49.4,29.7 49.7,36.8 48.7,41.7 C47.6,46.7 47.1,51.2 44.4,54.4 C41.8,57.5 35.3,56.5 32.9,60.7 C30.4,64.9 35.5,75.7 29.7,79.6 C24.0,83.4 3.5,97.1 -1.8,83.8 C-7.1,70.5 -11.8,13.7 -1.8,-0.3Z" fill="#0f520f" fill-opacity="1" filter="url(#hb4)"/><path d="M-1.8,-0.3 C8.0,-4.9 48.0,-3.1 57.1,-0.3 C66.2,2.5 57.4,13.4 52.9,16.5 C48.3,19.7 36.2,16.9 29.7,18.6 C23.3,20.4 19.2,25.6 14.0,27.0 C8.7,28.4 0.8,31.6 -1.8,27.0 C-4.4,22.5 -11.6,4.3 -1.8,-0.3Z" fill="#1a7a1a" fill-opacity="0.8" filter="url(#hb4)"/><ellipse cx="12.9" cy="3.1" rx="10.5" ry="5.5" fill="#0a4a0a" fill-opacity="1" filter="url(#hb2)"/><path d="M-1.8,29.1 C0.5,25.8 9.2,24.9 11.9,27.0 C14.5,29.1 15.2,38.4 14.0,41.7 C12.7,45.1 7.1,46.1 4.5,47.0 C1.9,47.9 -0.7,50.0 -1.8,47.0 C-2.9,44.0 -4.1,32.5 -1.8,29.1Z" fill="#052805" fill-opacity="0.9" filter="url(#hb3)"/><ellipse cx="28.7" cy="41.7" rx="12.4" ry="11.1" fill="#0a500a" fill-opacity="1" filter="url(#hb2)" transform="rotate(-15 28.7 41.7)"/><path d="M17.3,40.2 C17.5,37.8 17.9,34.8 19.2,32.8 C20.6,30.8 23.1,29.6 25.5,28.3 C28.0,27.0 31.1,24.7 33.9,25.1 C36.7,25.6 40.4,28.6 42.3,31.0 C44.3,33.4 45.5,37.0 45.7,39.6 C45.9,42.3 44.9,44.9 43.6,47.0 C42.3,49.1 40.5,51.0 38.1,52.5 C35.8,53.9 32.3,55.4 29.7,55.6 C27.1,55.8 24.5,54.9 22.6,53.5 C20.7,52.1 19.3,49.4 18.4,47.2 C17.5,45.0 17.2,42.6 17.3,40.2Z" fill="none" stroke="#2cc426" stroke-width="3.4" stroke-opacity="1" stroke-linecap="round" stroke-linejoin="round" filter="url(#hb15)"/><path d="M29.7,26.5 C31.1,25.9 35.9,22.0 38.1,22.8 C40.4,23.6 42.1,28.4 43.4,31.2 C44.7,34.0 46.0,37.0 46.0,39.6 C46.0,42.3 43.8,45.8 43.4,47.0" fill="none" stroke="#70ff50" stroke-width="3.2" stroke-opacity="0.8" stroke-linecap="round" stroke-linejoin="round" filter="url(#hb15)"/><path d="M8.7,52.3 C9.7,50.2 12.9,48.2 15.0,48.6 C17.1,48.9 20.5,52.0 21.3,54.4 C22.1,56.7 21.0,60.8 19.7,62.8 C18.5,64.7 15.7,66.3 14.0,65.9 C12.2,65.6 10.1,62.9 9.2,60.7 C8.4,58.4 7.7,54.3 8.7,52.3Z" fill="#32b82c" fill-opacity="1" filter="url(#hb2)"/><ellipse cx="2.9" cy="61.9" rx="6.3" ry="7.8" fill="#031803" fill-opacity="0.95" filter="url(#hb15)"/><ellipse cx="12.9" cy="70.7" rx="8.4" ry="6.1" fill="#031803" fill-opacity="0.9" filter="url(#hb15)"/><path d="M19.2,64.9 C20.4,63.1 23.7,61.4 25.5,61.7 C27.4,62.1 29.7,64.7 30.3,67.0 C30.8,69.2 30.2,73.5 28.7,75.4 C27.2,77.3 23.1,79.1 21.3,78.5 C19.6,78.0 18.5,74.5 18.2,72.2 C17.8,69.9 18.0,66.6 19.2,64.9Z" fill="#32b82c" fill-opacity="1" filter="url(#hb2)"/><path d="M-1.8,65.9 C-0.2,63.1 5.7,63.6 7.7,64.9 C9.6,66.1 9.9,70.5 9.8,73.3 C9.6,76.1 8.5,80.3 6.6,81.7 C4.7,83.1 -0.4,84.3 -1.8,81.7 C-3.2,79.1 -3.4,68.7 -1.8,65.9Z" fill="#167016" fill-opacity="1" filter="url(#hb2)"/><ellipse cx="60.9" cy="47.8" rx="0.9" ry="0.9" fill="#40e040" fill-opacity="1" filter="url(#hb06)"/></g>
<g id="B3" filter="url(#grB)"><rect x="-10" y="-10" width="87.9" height="100.8" fill="#000"/><ellipse cx="28.2" cy="41.7" rx="13.1" ry="11.1" fill="#1414d8" fill-opacity="1" filter="url(#hb15)"/><ellipse cx="11.9" cy="3.7" rx="12.2" ry="7.6" fill="#1414e0" fill-opacity="1" filter="url(#hb15)"/><ellipse cx="0.8" cy="39.6" rx="3.6" ry="6.3" fill="#0a0a98" fill-opacity="1" filter="url(#hb2)"/><ellipse cx="2.9" cy="61.9" rx="6.1" ry="7.6" fill="#1818ff" fill-opacity="1" filter="url(#hb15)"/><ellipse cx="12.9" cy="70.3" rx="8.6" ry="6.3" fill="#1818ff" fill-opacity="1" filter="url(#hb15)"/></g>
<g id="R4" filter="url(#grR)"><rect x="-10" y="-10" width="87.9" height="100.8" fill="#300000"/><path d="M-1.8,28.6 C-0.0,19.3 6.3,26.2 8.7,28.1 C11.2,30.0 11.2,36.4 12.9,40.2 C14.7,44.0 16.4,47.6 19.2,50.7 C22.0,53.9 26.6,56.3 29.7,59.1 C32.9,61.9 36.0,63.3 38.1,67.5 C40.3,71.7 49.5,81.5 42.9,84.3 C36.2,87.1 5.6,93.6 -1.8,84.3 C-9.2,75.1 -3.6,38.0 -1.8,28.6Z" fill="#b40000" fill-opacity="1" filter="url(#hb2)"/><path d="M11.9,15.0 C13.4,12.3 19.4,10.9 22.4,8.7 C25.4,6.5 26.8,3.2 29.7,1.8 C32.7,0.4 34.8,0.5 40.2,0.3 C45.7,-0.0 58.0,-1.1 62.3,0.3 C66.6,1.7 66.2,5.5 66.0,8.7 C65.8,11.8 62.8,15.1 61.3,19.2 C59.8,23.2 57.2,28.6 57.1,32.8 C56.9,37.0 60.4,40.4 60.4,44.4 C60.5,48.4 58.2,53.9 57.3,57.0 C56.4,60.2 56.6,61.5 55.0,63.3 C53.3,65.1 49.7,68.3 47.6,67.7 C45.5,67.2 44.8,62.3 42.3,60.2 C39.9,58.0 36.0,56.8 32.9,54.9 C29.7,53.0 26.1,50.7 23.4,48.6 C20.8,46.5 19.0,44.9 17.1,42.3 C15.2,39.7 12.6,35.8 11.9,32.8 C11.2,29.9 12.9,27.4 12.9,24.4 C12.9,21.4 10.3,17.6 11.9,15.0Z" fill="#cc0000" fill-opacity="1" filter="url(#hb15)"/><path d="M10.8,29.7 C11.7,31.8 14.1,38.8 16.1,42.3 C18.0,45.8 19.6,47.8 22.4,50.7 C25.2,53.6 29.6,57.1 32.9,59.6 C36.2,62.2 39.9,63.8 42.3,65.9 C44.8,68.1 46.5,70.1 47.6,72.8 C48.7,75.5 48.5,80.7 48.7,82.2" fill="none" stroke="#5a0000" stroke-width="4.8" stroke-opacity="0.9" stroke-linecap="round" stroke-linejoin="round" filter="url(#hb2)"/><path d="M24.5,13.9 C28.3,11.1 34.8,9.2 40.2,8.7 C45.7,8.1 54.6,7.3 57.1,10.8 C59.5,14.3 55.3,23.4 55.0,29.7 C54.6,36.0 56.0,43.3 55.0,48.6 C53.9,53.9 52.0,60.9 48.7,61.2 C45.3,61.6 39.5,54.2 35.0,50.7 C30.4,47.2 24.3,44.4 21.3,40.2 C18.3,36.0 16.6,29.9 17.1,25.5 C17.6,21.1 20.6,16.7 24.5,13.9Z" fill="#e80808" fill-opacity="0.5" filter="url(#hb4)"/><path d="M-1.8,0.3 C2.8,-4.3 23.4,-2.0 25.5,0.3 C27.6,2.5 13.6,9.7 10.8,13.9 C8.0,18.1 10.8,23.2 8.7,25.5 C6.6,27.8 -0.0,31.8 -1.8,27.6 C-3.6,23.4 -6.4,4.8 -1.8,0.3Z" fill="#200000" fill-opacity="0.8" filter="url(#hb3)"/></g>
<g id="G4" filter="url(#grG)"><rect x="-10" y="-10" width="87.9" height="100.8" fill="#000"/><path d="M19.2,13.9 C20.8,11.5 25.1,8.2 27.6,6.6 C30.2,4.9 33.5,2.2 34.5,3.9 C35.4,5.7 32.8,13.4 33.4,17.1 C34.0,20.7 35.8,23.4 38.1,25.7 C40.5,28.0 44.7,30.3 47.6,30.9 C50.5,31.6 54.3,28.1 55.5,29.7 C56.6,31.2 55.1,36.7 54.4,40.2 C53.7,43.7 52.8,47.8 51.3,50.7 C49.8,53.6 47.7,57.2 45.5,57.5 C43.3,57.9 40.8,55.2 38.1,53.0 C35.5,50.8 32.5,46.9 29.7,44.4 C26.9,41.9 23.5,40.5 21.3,38.1 C19.2,35.6 17.5,32.5 16.9,29.7 C16.3,26.9 17.6,23.9 18.0,21.3 C18.3,18.6 17.6,16.4 19.2,13.9Z" fill="#1e801e" fill-opacity="1" filter="url(#hb2)"/><ellipse cx="44.4" cy="16.0" rx="12.8" ry="13.9" fill="#063806" fill-opacity="1" filter="url(#hb2)" transform="rotate(-20 44.4 16.0)"/><path d="M32.9,32.8 C34.6,30.2 45.3,31.3 48.7,32.8 C52.0,34.4 53.0,39.0 52.9,42.3 C52.7,45.6 50.1,51.8 47.6,52.8 C45.1,53.9 40.6,51.9 38.1,48.6 C35.7,45.3 31.1,35.5 32.9,32.8Z" fill="#40d838" fill-opacity="0.45" filter="url(#hb3)"/><path d="M20.3,16.0 C21.3,12.9 28.0,9.2 29.7,10.8 C31.5,12.3 31.8,22.3 30.8,25.5 C29.7,28.6 25.2,31.3 23.4,29.7 C21.7,28.1 19.2,19.2 20.3,16.0Z" fill="#38c832" fill-opacity="0.5" filter="url(#hb3)"/><path d="M-1.8,45.4 C-0.4,38.8 4.2,43.0 6.6,44.2 C9.1,45.4 10.8,49.6 12.9,52.8 C15.0,56.0 17.6,60.2 19.2,63.3 C20.8,66.5 22.2,68.2 22.6,71.7 C23.0,75.2 25.6,82.2 21.5,84.3 C17.5,86.4 2.1,90.8 -1.8,84.3 C-5.7,77.9 -3.2,52.1 -1.8,45.4Z" fill="#218a21" fill-opacity="1" filter="url(#hb2)"/><ellipse cx="8.7" cy="64.4" rx="7.4" ry="9.5" fill="#44dc38" fill-opacity="0.5" filter="url(#hb3)"/><path d="M58.1,0.3 C60.0,-2.4 69.5,-2.7 71.8,0.3 C74.1,3.2 73.7,15.5 71.8,18.1 C69.8,20.7 62.5,19.0 60.2,16.0 C57.9,13.0 56.2,2.9 58.1,0.3Z" fill="#249424" fill-opacity="1" filter="url(#hb2)"/><path d="M57.1,44.4 C59.2,42.1 69.3,41.1 71.8,43.3 C74.2,45.6 73.9,55.8 71.8,58.1 C69.7,60.3 61.6,59.3 59.2,57.0 C56.7,54.7 55.0,46.7 57.1,44.4Z" fill="#26a026" fill-opacity="1" filter="url(#hb2)"/><path d="M45.5,59.1 C48.5,55.3 62.8,55.3 66.5,59.1 C70.2,63.0 70.5,78.4 67.6,82.2 C64.6,86.1 52.3,86.1 48.7,82.2 C45.0,78.4 42.5,63.0 45.5,59.1Z" fill="#063806" fill-opacity="1" filter="url(#hb3)"/></g>
<g id="B4" filter="url(#grB)"><rect x="-10" y="-10" width="87.9" height="100.8" fill="#000"/><path d="M31.8,16.0 C32.5,13.6 34.5,9.5 37.1,7.6 C39.7,5.7 44.6,4.1 47.6,4.5 C50.6,4.8 53.1,7.1 55.0,9.7 C56.8,12.3 58.3,16.9 58.6,20.2 C59.0,23.6 58.5,27.3 57.1,29.7 C55.6,32.0 52.5,34.6 49.7,34.4 C46.9,34.2 43.0,30.6 40.2,28.6 C37.4,26.6 34.3,24.4 32.9,22.3 C31.5,20.2 31.1,18.5 31.8,16.0Z" fill="#0a0a8c" fill-opacity="1" filter="url(#hb15)"/><ellipse cx="33.9" cy="16.0" rx="1.1" ry="1.1" fill="#3030ff" fill-opacity="1" filter="url(#hb06)"/><ellipse cx="37.1" cy="13.4" rx="1.1" ry="1.1" fill="#3030ff" fill-opacity="1" filter="url(#hb06)"/><ellipse cx="43.4" cy="11.3" rx="1.1" ry="1.1" fill="#3030ff" fill-opacity="1" filter="url(#hb06)"/><ellipse cx="48.7" cy="11.8" rx="1.1" ry="1.1" fill="#3030ff" fill-opacity="1" filter="url(#hb06)"/><ellipse cx="42.3" cy="20.2" rx="1.1" ry="1.1" fill="#3030ff" fill-opacity="1" filter="url(#hb06)"/><ellipse cx="47.1" cy="17.1" rx="1.1" ry="1.1" fill="#3030ff" fill-opacity="1" filter="url(#hb06)"/><ellipse cx="47.6" cy="25.0" rx="1.1" ry="1.1" fill="#3030ff" fill-opacity="1" filter="url(#hb06)"/><ellipse cx="50.8" cy="25.5" rx="1.1" ry="1.1" fill="#3030ff" fill-opacity="1" filter="url(#hb06)"/><ellipse cx="51.8" cy="17.6" rx="1.1" ry="1.1" fill="#3030ff" fill-opacity="1" filter="url(#hb06)"/><ellipse cx="67.0" cy="33.9" rx="7.1" ry="15.6" fill="#1414f8" fill-opacity="1" filter="url(#hb15)"/></g>
</defs>
<g transform="translate(401.8,573.5)" clip-path="url(#hcell)" style="isolation:isolate">
<use href="#R1"/>
<rect x="52.7" y="76.8" width="13.7" height="1.9" fill="#fff"/>
<text x="58.6" y="75.2" font-size="6.0" font-weight="bold" text-anchor="middle" style="fill:#fff;stroke:none">10µm</text>
</g>
<g transform="translate(471.8,573.5)" clip-path="url(#hcell)" style="isolation:isolate">
<use href="#G1"/>
</g>
<g transform="translate(541.8,573.5)" clip-path="url(#hcell)" style="isolation:isolate">
<use href="#B1"/>
</g>
<g transform="translate(611.8,573.5)" clip-path="url(#hcell)" style="isolation:isolate">
<rect width="67.9" height="80.8" fill="#000"/><use href="#R1"/><ellipse cx="40.3" cy="44.5" rx="19" ry="13.5" transform="rotate(18 40.3 44.5)" fill="#000" fill-opacity="0.35" filter="url(#hb15)"/><use href="#G1" style="mix-blend-mode:screen"/><use href="#B1" style="mix-blend-mode:screen"/>
</g>
<g transform="translate(401.8,656.0)" clip-path="url(#hcell)" style="isolation:isolate">
<use href="#R2"/>
</g>
<g transform="translate(471.8,656.0)" clip-path="url(#hcell)" style="isolation:isolate">
<use href="#G2"/>
</g>
<g transform="translate(541.8,656.0)" clip-path="url(#hcell)" style="isolation:isolate">
<use href="#B2"/>
</g>
<g transform="translate(611.8,656.0)" clip-path="url(#hcell)" style="isolation:isolate">
<rect width="67.9" height="80.8" fill="#000"/><use href="#R2"/><ellipse cx="40.2" cy="46.9" rx="12.5" ry="14" transform="rotate(-10 40.2 46.9)" fill="#000" fill-opacity="0.45" filter="url(#hb15)"/><use href="#G2" style="mix-blend-mode:screen"/><use href="#B2" style="mix-blend-mode:screen"/>
</g>
<g transform="translate(401.8,738.5)" clip-path="url(#hcell)" style="isolation:isolate">
<use href="#R3"/>
</g>
<g transform="translate(471.8,738.5)" clip-path="url(#hcell)" style="isolation:isolate">
<use href="#G3"/>
</g>
<g transform="translate(541.8,738.5)" clip-path="url(#hcell)" style="isolation:isolate">
<use href="#B3"/>
</g>
<g transform="translate(611.8,738.5)" clip-path="url(#hcell)" style="isolation:isolate">
<rect width="67.9" height="80.8" fill="#000"/><use href="#R3"/><ellipse cx="28.2" cy="41.7" rx="12.5" ry="10.5" transform="rotate(0 28.2 41.7)" fill="#000" fill-opacity="0.15" filter="url(#hb15)"/><use href="#G3" style="mix-blend-mode:screen"/><use href="#B3" style="mix-blend-mode:screen"/>
</g>
<g transform="translate(401.8,821.0)" clip-path="url(#hcell)" style="isolation:isolate">
<use href="#R4"/>
</g>
<g transform="translate(471.8,821.0)" clip-path="url(#hcell)" style="isolation:isolate">
<use href="#G4"/>
</g>
<g transform="translate(541.8,821.0)" clip-path="url(#hcell)" style="isolation:isolate">
<use href="#B4"/>
</g>
<g transform="translate(611.8,821.0)" clip-path="url(#hcell)" style="isolation:isolate">
<rect width="67.9" height="80.8" fill="#000"/><use href="#R4"/><ellipse cx="44.5" cy="19" rx="13" ry="13.5" transform="rotate(0 44.5 19)" fill="#000" fill-opacity="0.2" filter="url(#hb15)"/><use href="#G4" style="mix-blend-mode:screen"/><use href="#B4" style="mix-blend-mode:screen"/>
</g>
<text x="435.15" y="569.90" font-size="11.4" text-anchor="middle">His-Tag</text>
<text x="505.15" y="569.90" font-size="11.4" text-anchor="middle">TOM70</text>
<text x="575.15" y="569.90" font-size="11.4" text-anchor="middle">DAPI</text>
<text x="645.15" y="569.90" font-size="11.4" text-anchor="middle">Merge</text>
<text x="383.40" y="613.90" font-size="11.5" text-anchor="middle" transform="rotate(-90 383.40 613.90)">WT</text>
<text x="396.80" y="613.90" font-size="11.5" text-anchor="middle" transform="rotate(-90 396.80 613.90)">Control</text>
<text x="383.40" y="696.40" font-size="11.5" text-anchor="middle" transform="rotate(-90 383.40 696.40)">WT</text>
<text x="396.80" y="696.40" font-size="11.5" text-anchor="middle" transform="rotate(-90 396.80 696.40)">Ethanol</text>
<text x="383.40" y="778.90" font-size="11.5" text-anchor="middle" transform="rotate(-90 383.40 778.90)">S114A</text>
<text x="396.80" y="778.90" font-size="11.5" text-anchor="middle" transform="rotate(-90 396.80 778.90)">Control</text>
<text x="383.40" y="861.40" font-size="11.5" text-anchor="middle" transform="rotate(-90 383.40 861.40)">S114A</text>
<text x="396.80" y="861.40" font-size="11.5" text-anchor="middle" transform="rotate(-90 396.80 861.40)">Ethanol</text>
</g>
</svg>
</body></html>
